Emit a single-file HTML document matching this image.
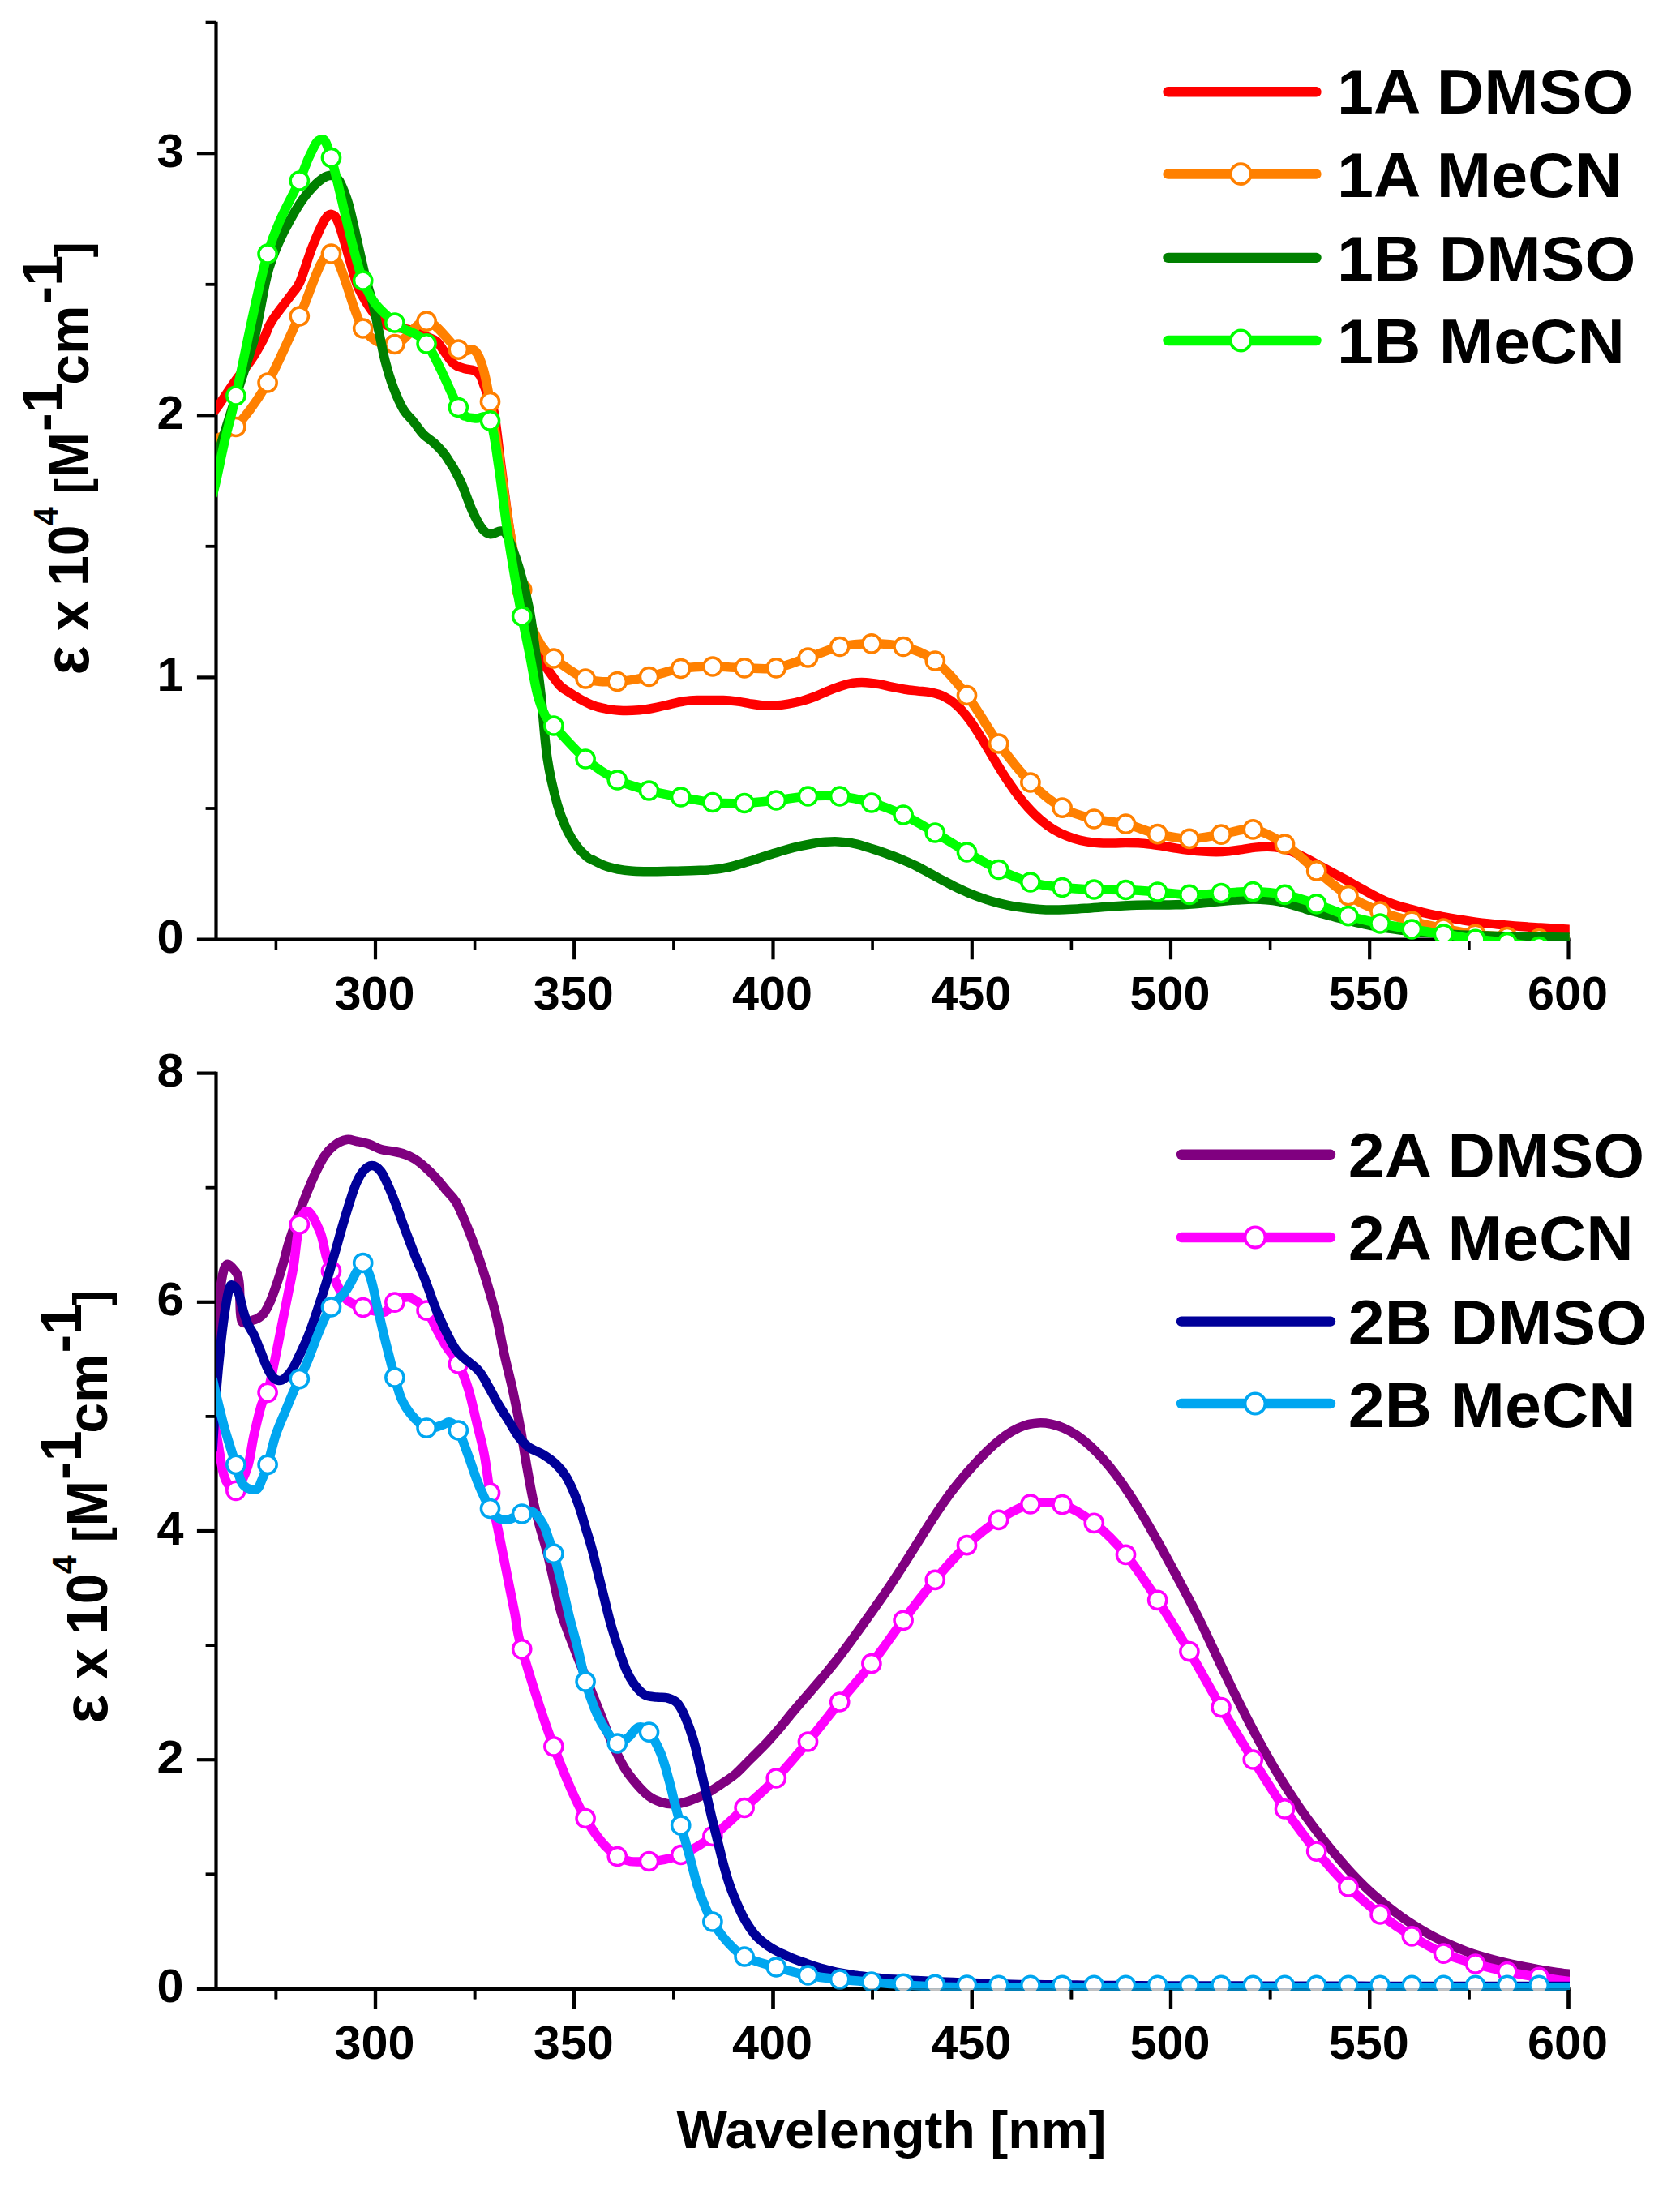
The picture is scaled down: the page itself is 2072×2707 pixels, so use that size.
<!DOCTYPE html>
<html><head><meta charset="utf-8"><title>Spectra</title>
<style>html,body{margin:0;padding:0;background:#fff}body{width:2072px;height:2707px;overflow:hidden}</style>
</head><body>
<svg width="2072" height="2707" viewBox="0 0 2072 2707" style="display:block;font-family:'Liberation Sans',sans-serif;font-weight:700;fill:#000">
<rect width="2072" height="2707" fill="#fff"/>
<defs><clipPath id="ct"><rect x="267" y="0" width="1668.8" height="1161"/></clipPath><clipPath id="cb"><rect x="267" y="1300" width="1669.0" height="1152.2"/></clipPath><clipPath id="cs"><rect x="267" y="2452.2" width="1669.0" height="3.0"/></clipPath></defs>
<g stroke="#000" stroke-width="4.2" fill="none"><path d="M266.5 26.8 V1160.6"/><path d="M242.9 1158.5 H1936.6" stroke-width="4.2"/></g><g stroke="#000" fill="none"><path d="M242.9 835.4 H266.5" stroke-width="4.2"/><path d="M242.9 512.3 H266.5" stroke-width="4.2"/><path d="M242.9 189.2 H266.5" stroke-width="4.2"/><path d="M253.6 997.0 H266.5" stroke-width="3.8"/><path d="M253.6 673.8 H266.5" stroke-width="3.8"/><path d="M253.6 350.8 H266.5" stroke-width="3.8"/><path d="M253.6 27.6 H266.5" stroke-width="3.8"/><path d="M463.0 1158.5 V1183.3" stroke-width="4.2"/><path d="M708.2 1158.5 V1183.3" stroke-width="4.2"/><path d="M953.5 1158.5 V1183.3" stroke-width="4.2"/><path d="M1198.8 1158.5 V1183.3" stroke-width="4.2"/><path d="M1444.0 1158.5 V1183.3" stroke-width="4.2"/><path d="M1689.2 1158.5 V1183.3" stroke-width="4.2"/><path d="M1934.5 1158.5 V1183.3" stroke-width="4.2"/><path d="M340.4 1158.5 V1171.5" stroke-width="3.6"/><path d="M585.6 1158.5 V1171.5" stroke-width="3.6"/><path d="M830.9 1158.5 V1171.5" stroke-width="3.6"/><path d="M1076.1 1158.5 V1171.5" stroke-width="3.6"/><path d="M1321.4 1158.5 V1171.5" stroke-width="3.6"/><path d="M1566.6 1158.5 V1171.5" stroke-width="3.6"/><path d="M1811.9 1158.5 V1171.5" stroke-width="3.6"/></g>
<g stroke="#000" stroke-width="4.2" fill="none"><path d="M266.5 1321.7 V2454.5"/><path d="M242.9 2452.7 H1936.6" stroke-width="5.0"/></g><g stroke="#000" fill="none"><path d="M242.9 2170.2 H266.5" stroke-width="4.2"/><path d="M242.9 1888.0 H266.5" stroke-width="4.2"/><path d="M242.9 1605.8 H266.5" stroke-width="4.2"/><path d="M242.9 1323.6 H266.5" stroke-width="4.2"/><path d="M253.6 2311.3 H266.5" stroke-width="3.8"/><path d="M253.6 2029.1 H266.5" stroke-width="3.8"/><path d="M253.6 1746.9 H266.5" stroke-width="3.8"/><path d="M253.6 1464.7 H266.5" stroke-width="3.8"/><path d="M463.0 2452.4 V2477.2" stroke-width="4.2"/><path d="M708.2 2452.4 V2477.2" stroke-width="4.2"/><path d="M953.5 2452.4 V2477.2" stroke-width="4.2"/><path d="M1198.8 2452.4 V2477.2" stroke-width="4.2"/><path d="M1444.0 2452.4 V2477.2" stroke-width="4.2"/><path d="M1689.2 2452.4 V2477.2" stroke-width="4.2"/><path d="M1934.5 2452.4 V2477.2" stroke-width="4.2"/><path d="M340.4 2452.4 V2465.4" stroke-width="3.6"/><path d="M585.6 2452.4 V2465.4" stroke-width="3.6"/><path d="M830.9 2452.4 V2465.4" stroke-width="3.6"/><path d="M1076.1 2452.4 V2465.4" stroke-width="3.6"/><path d="M1321.4 2452.4 V2465.4" stroke-width="3.6"/><path d="M1566.6 2452.4 V2465.4" stroke-width="3.6"/><path d="M1811.9 2452.4 V2465.4" stroke-width="3.6"/></g>
<g clip-path="url(#ct)">
<path d="M262.0 508.0C262.8 507.3 262.3 509.9 267.0 503.6C271.7 497.3 282.8 480.0 290.0 470.0C297.2 460.0 304.2 452.4 310.0 443.8C315.8 435.1 320.8 425.9 325.0 418.0C329.2 410.1 329.2 405.5 335.0 396.2C340.8 387.0 354.2 370.6 360.0 362.5C365.8 354.4 365.8 357.1 370.0 347.5C374.2 337.9 380.0 317.6 385.0 305.0C390.0 292.4 396.0 278.8 400.0 272.0C404.0 265.2 406.1 263.8 409.0 264.3C411.9 264.8 414.0 266.4 417.5 275.0C421.0 283.6 426.2 303.5 430.0 316.0C433.8 328.5 436.7 341.0 440.0 350.0C443.3 359.0 446.7 364.2 450.0 370.0C453.3 375.8 456.7 380.5 460.0 385.0C463.3 389.5 466.7 394.1 470.0 397.0C473.3 399.9 476.3 401.2 480.0 402.5C483.7 403.8 487.8 403.8 492.0 404.5C496.2 405.2 501.0 405.6 505.0 406.5C509.0 407.4 512.3 408.5 516.0 410.0C519.7 411.5 523.2 413.7 527.0 415.5C530.8 417.3 535.4 418.1 538.8 421.0C542.2 423.9 544.0 428.3 547.5 433.0C551.0 437.7 555.8 445.4 560.0 449.0C564.2 452.6 568.3 453.2 572.5 454.5C576.7 455.8 581.8 455.6 585.0 457.0C588.2 458.4 589.8 459.5 592.0 463.0C594.2 466.5 595.8 472.3 598.0 478.0C600.2 483.7 603.0 491.3 605.0 497.0C607.0 502.7 607.8 499.0 610.0 512.0C612.2 525.0 615.0 552.0 618.0 575.0C621.0 598.0 624.7 627.2 628.0 650.0C631.3 672.8 634.8 693.7 638.0 712.0C641.2 730.3 644.2 747.3 647.0 760.0C649.8 772.7 652.4 780.3 655.0 788.0C657.6 795.7 659.2 799.8 662.5 806.0C665.8 812.2 670.4 818.5 675.0 825.0C679.6 831.5 685.8 840.4 690.0 845.0C694.2 849.6 695.7 849.6 700.0 852.5C704.3 855.4 710.7 859.4 716.0 862.4C721.3 865.3 726.7 868.1 732.0 870.1C737.3 872.1 742.7 873.2 748.0 874.3C753.3 875.3 758.7 875.8 764.0 876.2C769.3 876.5 774.7 876.5 780.0 876.3C785.3 876.1 790.7 875.7 796.0 874.9C801.3 874.2 806.7 873.0 812.0 871.9C817.3 870.8 822.7 869.3 828.0 868.1C833.3 866.9 838.7 865.6 844.0 864.8C849.3 864.0 854.7 863.7 860.0 863.5C865.3 863.3 870.7 863.5 876.0 863.5C881.3 863.5 886.7 863.3 892.0 863.5C897.3 863.7 902.7 864.2 908.0 864.9C913.3 865.5 918.7 866.7 924.0 867.6C929.3 868.4 934.7 869.3 940.0 869.7C945.3 870.1 950.7 870.3 956.0 870.0C961.3 869.7 966.7 869.0 972.0 868.1C977.3 867.2 982.7 866.1 988.0 864.7C993.3 863.3 998.7 861.5 1004.0 859.5C1009.3 857.5 1014.7 854.8 1020.0 852.6C1025.3 850.4 1030.7 848.1 1036.0 846.4C1041.3 844.6 1046.7 843.1 1052.0 842.3C1057.3 841.5 1062.7 841.4 1068.0 841.7C1073.3 841.9 1078.7 842.8 1084.0 843.7C1089.3 844.7 1094.7 846.1 1100.0 847.2C1105.3 848.3 1110.7 849.4 1116.0 850.2C1121.3 851.0 1126.7 851.5 1132.0 852.1C1137.3 852.7 1142.7 852.8 1148.0 853.9C1153.3 855.0 1158.7 856.2 1164.0 858.9C1169.3 861.5 1174.7 864.9 1180.0 869.7C1185.3 874.6 1190.7 880.9 1196.0 888.1C1201.3 895.3 1206.7 904.1 1212.0 912.7C1217.3 921.2 1222.7 930.7 1228.0 939.4C1233.3 948.1 1238.7 956.8 1244.0 964.7C1249.3 972.6 1254.7 979.9 1260.0 986.6C1265.3 993.2 1270.7 999.1 1276.0 1004.4C1281.3 1009.6 1286.7 1014.2 1292.0 1018.0C1297.3 1021.9 1302.7 1025.0 1308.0 1027.7C1313.3 1030.3 1318.7 1032.2 1324.0 1033.9C1329.3 1035.6 1334.7 1036.8 1340.0 1037.8C1345.3 1038.7 1350.7 1039.3 1356.0 1039.7C1361.3 1040.0 1366.7 1039.9 1372.0 1039.9C1377.3 1039.9 1382.7 1039.6 1388.0 1039.5C1393.3 1039.5 1398.7 1039.5 1404.0 1039.7C1409.3 1040.0 1414.7 1040.6 1420.0 1041.2C1425.3 1041.8 1430.7 1042.7 1436.0 1043.6C1441.3 1044.5 1446.7 1045.6 1452.0 1046.4C1457.3 1047.3 1462.7 1048.0 1468.0 1048.6C1473.3 1049.3 1478.7 1049.8 1484.0 1050.1C1489.3 1050.5 1494.7 1050.8 1500.0 1050.8C1505.3 1050.7 1510.7 1050.3 1516.0 1049.8C1521.3 1049.2 1526.7 1048.3 1532.0 1047.6C1537.3 1046.8 1542.7 1045.7 1548.0 1045.1C1553.3 1044.5 1558.7 1044.0 1564.0 1044.2C1569.3 1044.3 1574.7 1044.7 1580.0 1045.9C1585.3 1047.1 1590.7 1049.0 1596.0 1051.2C1601.3 1053.4 1606.7 1056.4 1612.0 1059.1C1617.3 1061.9 1622.7 1065.0 1628.0 1067.9C1633.3 1070.7 1638.7 1073.6 1644.0 1076.5C1649.3 1079.4 1654.7 1082.2 1660.0 1085.1C1665.3 1088.1 1670.7 1091.2 1676.0 1094.2C1681.3 1097.2 1686.7 1100.3 1692.0 1103.1C1697.3 1105.9 1702.7 1108.7 1708.0 1111.0C1713.3 1113.3 1718.7 1115.2 1724.0 1116.9C1729.3 1118.6 1734.7 1119.9 1740.0 1121.4C1745.3 1122.8 1750.7 1124.3 1756.0 1125.6C1761.3 1126.9 1766.7 1128.1 1772.0 1129.2C1777.3 1130.3 1782.7 1131.2 1788.0 1132.1C1793.3 1133.0 1798.7 1133.9 1804.0 1134.7C1809.3 1135.6 1814.7 1136.4 1820.0 1137.1C1825.3 1137.8 1830.7 1138.4 1836.0 1138.9C1841.3 1139.5 1846.7 1139.9 1852.0 1140.4C1857.3 1140.9 1862.7 1141.4 1868.0 1141.9C1873.3 1142.3 1878.7 1142.7 1884.0 1143.1C1889.3 1143.4 1894.7 1143.7 1900.0 1144.1C1905.3 1144.4 1910.7 1144.7 1916.0 1145.0C1921.3 1145.4 1928.0 1145.8 1932.0 1146.0C1936.0 1146.3 1938.7 1146.4 1940.0 1146.5" fill="none" stroke="#ff0000" stroke-width="11.5" stroke-linejoin="round" stroke-linecap="butt"/>
<path d="M262.0 544.0C262.8 543.5 262.2 543.9 267.0 541.0C271.8 538.1 280.4 538.0 290.9 526.5C301.4 515.0 317.0 494.8 330.1 472.0C343.2 449.2 356.2 416.5 369.3 390.0C382.4 363.5 395.4 310.5 408.5 313.0C421.6 315.5 434.6 386.4 447.7 405.0C460.8 423.6 473.8 426.0 486.9 424.5C500.0 423.0 513.0 395.1 526.1 396.2C539.2 397.4 555.5 425.3 565.3 431.2C575.1 437.2 579.9 428.0 585.0 432.0C590.1 436.0 592.8 444.4 596.0 455.0C599.2 465.6 601.3 478.0 604.5 495.5C607.7 513.0 611.6 537.6 615.0 560.0C618.4 582.4 621.7 608.3 625.0 630.0C628.3 651.7 631.9 673.8 635.0 690.0C638.1 706.2 640.7 715.0 643.7 727.5C646.7 740.0 649.9 755.0 653.0 765.0C656.1 775.0 659.3 781.3 662.5 787.5C665.7 793.7 668.6 797.9 672.0 802.0C675.4 806.1 674.5 806.2 682.9 812.0C691.2 817.8 709.0 832.2 722.1 837.0C735.2 841.8 748.2 840.9 761.3 840.5C774.4 840.1 787.4 837.2 800.5 834.5C813.6 831.8 826.6 826.6 839.7 824.5C852.8 822.4 865.8 822.1 878.9 822.0C892.0 821.9 905.0 823.5 918.1 823.8C931.2 824.0 944.2 825.9 957.3 823.8C970.4 821.6 983.4 815.4 996.5 811.0C1009.6 806.6 1022.6 800.4 1035.7 797.5C1048.8 794.6 1061.8 793.8 1074.9 793.8C1088.0 793.8 1101.0 794.0 1114.1 797.5C1127.2 801.0 1140.2 805.0 1153.3 815.0C1166.4 825.0 1179.4 840.5 1192.5 857.5C1205.6 874.5 1218.6 899.1 1231.7 917.0C1244.8 934.9 1257.8 951.8 1270.9 965.0C1284.0 978.2 1297.0 988.8 1310.1 996.2C1323.2 1003.8 1336.2 1006.7 1349.3 1010.0C1362.4 1013.3 1375.4 1013.1 1388.5 1016.2C1401.6 1019.4 1414.6 1025.6 1427.7 1028.6C1440.8 1031.6 1453.8 1034.2 1466.9 1034.3C1480.0 1034.4 1493.0 1031.0 1506.1 1029.1C1519.2 1027.2 1532.2 1020.9 1545.3 1022.9C1558.4 1024.9 1571.4 1032.5 1584.5 1041.0C1597.6 1049.5 1610.6 1063.3 1623.7 1073.9C1636.8 1084.5 1649.8 1096.2 1662.9 1104.6C1676.0 1112.9 1689.0 1118.8 1702.1 1124.0C1715.2 1129.2 1728.2 1132.5 1741.3 1136.0C1754.4 1139.5 1767.4 1142.3 1780.5 1145.0C1793.6 1147.7 1806.6 1150.5 1819.7 1152.3C1832.8 1154.1 1845.8 1154.7 1858.9 1155.6C1872.0 1156.5 1884.6 1157.0 1898.1 1157.5C1911.6 1158.0 1933.0 1158.3 1940.0 1158.5" fill="none" stroke="#ff8000" stroke-width="11.5" stroke-linejoin="round" stroke-linecap="butt"/><g fill="#fff" stroke="#ff8000" stroke-width="3.5"><circle cx="290.9" cy="526.5" r="11.1"/><circle cx="330.1" cy="472.0" r="11.1"/><circle cx="369.3" cy="390.0" r="11.1"/><circle cx="408.5" cy="313.0" r="11.1"/><circle cx="447.7" cy="405.0" r="11.1"/><circle cx="486.9" cy="424.5" r="11.1"/><circle cx="526.1" cy="396.2" r="11.1"/><circle cx="565.3" cy="431.2" r="11.1"/><circle cx="604.5" cy="495.5" r="11.1"/><circle cx="643.7" cy="727.5" r="11.1"/><circle cx="682.9" cy="812.0" r="11.1"/><circle cx="722.1" cy="837.0" r="11.1"/><circle cx="761.3" cy="840.5" r="11.1"/><circle cx="800.5" cy="834.5" r="11.1"/><circle cx="839.7" cy="824.5" r="11.1"/><circle cx="878.9" cy="822.0" r="11.1"/><circle cx="918.1" cy="823.8" r="11.1"/><circle cx="957.3" cy="823.8" r="11.1"/><circle cx="996.5" cy="811.0" r="11.1"/><circle cx="1035.7" cy="797.5" r="11.1"/><circle cx="1074.9" cy="793.8" r="11.1"/><circle cx="1114.1" cy="797.5" r="11.1"/><circle cx="1153.3" cy="815.0" r="11.1"/><circle cx="1192.5" cy="857.5" r="11.1"/><circle cx="1231.7" cy="917.0" r="11.1"/><circle cx="1270.9" cy="965.0" r="11.1"/><circle cx="1310.1" cy="996.2" r="11.1"/><circle cx="1349.3" cy="1010.0" r="11.1"/><circle cx="1388.5" cy="1016.2" r="11.1"/><circle cx="1427.7" cy="1028.6" r="11.1"/><circle cx="1466.9" cy="1034.3" r="11.1"/><circle cx="1506.1" cy="1029.1" r="11.1"/><circle cx="1545.3" cy="1022.9" r="11.1"/><circle cx="1584.5" cy="1041.0" r="11.1"/><circle cx="1623.7" cy="1073.9" r="11.1"/><circle cx="1662.9" cy="1104.6" r="11.1"/><circle cx="1702.1" cy="1124.0" r="11.1"/><circle cx="1741.3" cy="1136.0" r="11.1"/><circle cx="1780.5" cy="1145.0" r="11.1"/><circle cx="1819.7" cy="1152.3" r="11.1"/><circle cx="1858.9" cy="1155.6" r="11.1"/><circle cx="1898.1" cy="1157.5" r="11.1"/></g>
<path d="M262.0 580.0C262.8 577.5 262.3 579.7 267.0 565.0C271.7 550.3 284.2 510.3 290.0 492.0C295.8 473.7 298.2 467.0 302.0 455.0C305.8 443.0 310.4 429.2 313.0 420.0C315.6 410.8 315.2 411.7 317.5 400.0C319.8 388.3 324.6 361.7 327.0 350.0C329.4 338.3 330.0 336.5 332.0 330.0C334.0 323.5 336.2 317.5 338.8 311.0C341.3 304.5 344.7 297.0 347.5 291.0C350.3 285.0 353.1 280.1 355.8 275.0C358.6 269.9 361.1 265.3 364.0 260.5C366.9 255.7 370.3 250.2 373.3 246.0C376.3 241.8 379.2 238.2 382.0 235.0C384.8 231.8 387.3 229.0 390.0 226.5C392.7 224.0 395.7 221.6 398.0 220.0C400.3 218.4 402.2 217.6 404.0 217.0C405.8 216.4 407.3 216.1 409.0 216.3C410.7 216.6 412.4 217.4 414.0 218.5C415.6 219.6 416.3 218.9 418.5 223.0C420.7 227.1 424.8 236.8 427.0 243.0C429.2 249.2 429.2 248.8 432.0 260.0C434.8 271.2 440.2 295.8 443.5 310.0C446.8 324.2 448.8 334.2 451.5 345.0C454.2 355.8 457.3 364.2 460.0 375.0C462.7 385.8 465.0 398.3 467.5 410.0C470.0 421.7 472.1 433.8 475.0 445.0C477.9 456.2 481.2 467.5 485.0 477.5C488.8 487.5 493.3 497.9 497.5 505.0C501.7 512.1 505.8 514.8 510.0 520.0C514.2 525.2 518.3 531.7 522.5 536.0C526.7 540.3 530.4 541.6 535.0 546.0C539.6 550.4 544.6 554.8 550.0 562.5C555.4 570.2 562.1 581.2 567.5 592.5C572.9 603.8 577.9 620.0 582.5 630.0C587.1 640.0 591.2 647.7 595.0 652.5C598.8 657.3 601.2 658.3 605.0 658.8C608.8 659.2 614.2 654.8 617.5 655.0C620.8 655.2 621.2 652.5 625.0 660.0C628.8 667.5 635.4 685.0 640.0 700.0C644.6 715.0 649.2 733.3 652.5 750.0C655.8 766.7 657.5 781.7 660.0 800.0C662.5 818.3 665.0 837.5 667.5 860.0C670.0 882.5 671.7 912.9 675.0 935.0C678.3 957.1 683.3 977.5 687.5 992.5C691.7 1007.5 695.8 1016.2 700.0 1025.0C704.2 1033.8 708.3 1039.6 712.5 1045.0C716.7 1050.4 722.1 1055.0 725.0 1057.5C727.9 1060.0 726.5 1058.3 730.0 1060.0C733.5 1061.7 740.7 1065.7 746.0 1067.7C751.3 1069.7 756.7 1070.9 762.0 1072.0C767.3 1073.0 772.7 1073.7 778.0 1074.1C783.3 1074.6 788.7 1074.7 794.0 1074.8C799.3 1074.9 804.7 1074.8 810.0 1074.7C815.3 1074.6 820.7 1074.5 826.0 1074.3C831.3 1074.2 836.7 1074.1 842.0 1073.9C847.3 1073.8 852.7 1073.7 858.0 1073.5C863.3 1073.3 868.7 1073.2 874.0 1072.9C879.3 1072.5 884.7 1072.1 890.0 1071.2C895.3 1070.3 900.7 1069.0 906.0 1067.6C911.3 1066.2 916.7 1064.5 922.0 1062.8C927.3 1061.2 932.7 1059.4 938.0 1057.7C943.3 1056.0 948.7 1054.2 954.0 1052.6C959.3 1050.9 964.7 1049.2 970.0 1047.7C975.3 1046.2 980.7 1044.9 986.0 1043.7C991.3 1042.5 996.7 1041.4 1002.0 1040.5C1007.3 1039.6 1012.7 1038.7 1018.0 1038.3C1023.3 1037.9 1028.7 1037.7 1034.0 1037.9C1039.3 1038.1 1044.7 1038.7 1050.0 1039.7C1055.3 1040.6 1060.7 1042.1 1066.0 1043.7C1071.3 1045.2 1076.7 1047.0 1082.0 1048.8C1087.3 1050.6 1092.7 1052.5 1098.0 1054.5C1103.3 1056.4 1108.7 1058.5 1114.0 1060.7C1119.3 1063.0 1124.7 1065.4 1130.0 1068.0C1135.3 1070.7 1140.7 1073.7 1146.0 1076.6C1151.3 1079.4 1156.7 1082.5 1162.0 1085.3C1167.3 1088.1 1172.7 1091.0 1178.0 1093.6C1183.3 1096.2 1188.7 1098.6 1194.0 1100.9C1199.3 1103.1 1204.7 1105.2 1210.0 1107.1C1215.3 1109.0 1220.7 1110.8 1226.0 1112.3C1231.3 1113.8 1236.7 1115.0 1242.0 1116.1C1247.3 1117.2 1252.7 1118.1 1258.0 1118.9C1263.3 1119.7 1268.7 1120.3 1274.0 1120.8C1279.3 1121.3 1284.7 1121.7 1290.0 1121.9C1295.3 1122.1 1300.7 1122.1 1306.0 1122.0C1311.3 1121.9 1316.7 1121.6 1322.0 1121.3C1327.3 1121.1 1332.7 1120.7 1338.0 1120.3C1343.3 1120.0 1348.7 1119.6 1354.0 1119.2C1359.3 1118.8 1364.7 1118.3 1370.0 1117.9C1375.3 1117.6 1380.7 1117.2 1386.0 1116.9C1391.3 1116.6 1396.7 1116.3 1402.0 1116.2C1407.3 1116.1 1412.7 1116.1 1418.0 1116.1C1423.3 1116.1 1428.7 1116.1 1434.0 1116.1C1439.3 1116.0 1444.7 1115.9 1450.0 1115.8C1455.3 1115.7 1460.7 1115.5 1466.0 1115.2C1471.3 1115.0 1476.7 1114.6 1482.0 1114.1C1487.3 1113.7 1492.7 1113.0 1498.0 1112.4C1503.3 1111.9 1508.7 1111.3 1514.0 1110.8C1519.3 1110.4 1524.7 1110.0 1530.0 1109.7C1535.3 1109.4 1540.7 1109.1 1546.0 1109.1C1551.3 1109.1 1556.7 1109.3 1562.0 1109.8C1567.3 1110.2 1572.7 1110.9 1578.0 1111.9C1583.3 1113.0 1588.7 1114.4 1594.0 1115.9C1599.3 1117.4 1604.7 1119.2 1610.0 1120.9C1615.3 1122.5 1620.7 1124.0 1626.0 1125.5C1631.3 1127.0 1636.7 1128.4 1642.0 1129.8C1647.3 1131.3 1652.7 1132.6 1658.0 1134.0C1663.3 1135.4 1668.7 1136.8 1674.0 1138.0C1679.3 1139.2 1684.7 1140.4 1690.0 1141.4C1695.3 1142.4 1700.7 1143.2 1706.0 1144.0C1711.3 1144.8 1716.7 1145.6 1722.0 1146.3C1727.3 1147.1 1732.7 1147.9 1738.0 1148.5C1743.3 1149.1 1748.7 1149.5 1754.0 1149.9C1759.3 1150.3 1764.7 1150.6 1770.0 1151.0C1775.3 1151.4 1780.7 1151.7 1786.0 1152.1C1791.3 1152.4 1796.7 1152.7 1802.0 1153.0C1807.3 1153.2 1812.7 1153.4 1818.0 1153.6C1823.3 1153.8 1828.7 1154.0 1834.0 1154.1C1839.3 1154.3 1844.7 1154.5 1850.0 1154.6C1855.3 1154.8 1860.7 1154.9 1866.0 1155.0C1871.3 1155.1 1876.7 1155.2 1882.0 1155.3C1887.3 1155.3 1892.7 1155.4 1898.0 1155.5C1903.3 1155.5 1908.7 1155.6 1914.0 1155.7C1919.3 1155.7 1925.7 1155.8 1930.0 1155.9C1934.3 1155.9 1938.3 1156.0 1940.0 1156.0" fill="none" stroke="#008000" stroke-width="11.5" stroke-linejoin="round" stroke-linecap="butt"/>
<path d="M262.0 612.0C262.8 608.5 264.3 603.0 267.0 591.0C269.7 579.0 274.0 557.2 278.0 540.0C282.0 522.8 282.2 525.8 290.9 488.0C299.6 450.2 317.0 357.2 330.1 313.0C343.2 268.8 360.6 243.2 369.3 223.0C377.9 202.8 377.7 200.4 382.0 192.0C386.3 183.6 390.6 172.1 395.0 172.5C399.4 172.9 399.7 165.6 408.5 194.5C417.3 223.4 434.6 312.1 447.7 346.0C460.8 379.9 473.8 385.0 486.9 398.0C500.0 411.0 513.0 406.3 526.1 423.8C539.2 441.2 557.1 487.5 565.3 502.5C573.4 517.5 571.4 511.2 575.0 513.5C578.6 515.8 582.1 515.1 587.0 516.0C591.9 516.9 599.8 508.9 604.5 518.8C609.2 528.6 611.6 553.1 615.0 575.0C618.4 596.9 621.7 627.1 625.0 650.0C628.3 672.9 631.9 694.2 635.0 712.5C638.1 730.8 640.6 743.8 643.7 760.0C646.8 776.2 650.6 794.2 653.8 810.0C656.9 825.8 659.4 842.9 662.5 855.0C665.6 867.1 669.1 875.8 672.5 882.5C675.9 889.2 674.6 886.1 682.9 895.0C691.2 903.9 709.0 924.8 722.1 936.0C735.2 947.2 748.2 955.5 761.3 962.0C774.4 968.5 787.4 971.5 800.5 975.0C813.6 978.5 826.6 980.6 839.7 983.0C852.8 985.4 865.8 988.2 878.9 989.5C892.0 990.8 905.0 990.9 918.1 990.5C931.2 990.1 944.2 988.4 957.3 987.0C970.4 985.6 983.4 982.8 996.5 982.0C1009.6 981.2 1022.6 980.7 1035.7 982.0C1048.8 983.3 1061.8 986.2 1074.9 990.0C1088.0 993.8 1101.0 998.8 1114.1 1005.0C1127.2 1011.2 1140.2 1019.3 1153.3 1027.0C1166.4 1034.7 1179.4 1043.4 1192.5 1051.0C1205.6 1058.6 1218.6 1066.3 1231.7 1072.5C1244.8 1078.7 1257.8 1084.3 1270.9 1088.0C1284.0 1091.7 1297.0 1093.0 1310.1 1094.5C1323.2 1096.0 1336.2 1096.5 1349.3 1097.0C1362.4 1097.5 1375.4 1097.0 1388.5 1097.5C1401.6 1098.0 1414.6 1099.0 1427.7 1100.0C1440.8 1101.0 1453.8 1103.2 1466.9 1103.4C1480.0 1103.7 1493.0 1102.1 1506.1 1101.5C1519.2 1100.9 1532.2 1099.3 1545.3 1099.6C1558.4 1099.9 1571.4 1100.9 1584.5 1103.4C1597.6 1106.0 1610.6 1110.5 1623.7 1114.9C1636.8 1119.3 1649.8 1125.6 1662.9 1129.6C1676.0 1133.6 1689.0 1136.3 1702.1 1139.0C1715.2 1141.7 1728.2 1143.8 1741.3 1146.0C1754.4 1148.2 1767.4 1150.0 1780.5 1152.0C1793.6 1154.0 1806.6 1156.5 1819.7 1158.3C1832.8 1160.0 1845.8 1161.0 1858.9 1162.5C1872.0 1164.0 1884.6 1166.4 1898.1 1167.5C1911.6 1168.6 1933.0 1168.8 1940.0 1169.0" fill="none" stroke="#00ff00" stroke-width="11.5" stroke-linejoin="round" stroke-linecap="butt"/><g fill="#fff" stroke="#00ff00" stroke-width="3.5"><circle cx="290.9" cy="488.0" r="11.1"/><circle cx="330.1" cy="313.0" r="11.1"/><circle cx="369.3" cy="223.0" r="11.1"/><circle cx="408.5" cy="194.5" r="11.1"/><circle cx="447.7" cy="346.0" r="11.1"/><circle cx="486.9" cy="398.0" r="11.1"/><circle cx="526.1" cy="423.8" r="11.1"/><circle cx="565.3" cy="502.5" r="11.1"/><circle cx="604.5" cy="518.8" r="11.1"/><circle cx="643.7" cy="760.0" r="11.1"/><circle cx="682.9" cy="895.0" r="11.1"/><circle cx="722.1" cy="936.0" r="11.1"/><circle cx="761.3" cy="962.0" r="11.1"/><circle cx="800.5" cy="975.0" r="11.1"/><circle cx="839.7" cy="983.0" r="11.1"/><circle cx="878.9" cy="989.5" r="11.1"/><circle cx="918.1" cy="990.5" r="11.1"/><circle cx="957.3" cy="987.0" r="11.1"/><circle cx="996.5" cy="982.0" r="11.1"/><circle cx="1035.7" cy="982.0" r="11.1"/><circle cx="1074.9" cy="990.0" r="11.1"/><circle cx="1114.1" cy="1005.0" r="11.1"/><circle cx="1153.3" cy="1027.0" r="11.1"/><circle cx="1192.5" cy="1051.0" r="11.1"/><circle cx="1231.7" cy="1072.5" r="11.1"/><circle cx="1270.9" cy="1088.0" r="11.1"/><circle cx="1310.1" cy="1094.5" r="11.1"/><circle cx="1349.3" cy="1097.0" r="11.1"/><circle cx="1388.5" cy="1097.5" r="11.1"/><circle cx="1427.7" cy="1100.0" r="11.1"/><circle cx="1466.9" cy="1103.4" r="11.1"/><circle cx="1506.1" cy="1101.5" r="11.1"/><circle cx="1545.3" cy="1099.6" r="11.1"/><circle cx="1584.5" cy="1103.4" r="11.1"/><circle cx="1623.7" cy="1114.9" r="11.1"/><circle cx="1662.9" cy="1129.6" r="11.1"/><circle cx="1702.1" cy="1139.0" r="11.1"/><circle cx="1741.3" cy="1146.0" r="11.1"/><circle cx="1780.5" cy="1152.0" r="11.1"/><circle cx="1819.7" cy="1158.3" r="11.1"/><circle cx="1858.9" cy="1162.5" r="11.1"/><circle cx="1898.1" cy="1167.5" r="11.1"/></g>
</g>
<g clip-path="url(#cb)"><path d="M262.0 1700.0C262.8 1690.0 265.4 1658.0 267.0 1640.0C268.6 1622.0 270.1 1604.0 271.5 1592.0C272.9 1580.0 274.1 1573.5 275.5 1568.0C276.9 1562.5 278.2 1559.8 280.2 1559.2C282.2 1558.6 285.3 1562.4 287.4 1564.5C289.5 1566.6 291.4 1568.5 292.7 1571.7C294.0 1574.9 294.6 1578.6 295.1 1583.6C295.6 1588.5 295.6 1595.5 295.9 1601.4C296.1 1607.4 296.2 1614.5 296.6 1619.3C297.0 1624.1 297.4 1628.0 298.5 1630.0C299.6 1632.0 301.5 1631.6 303.0 1631.5C304.5 1631.4 305.4 1630.3 307.6 1629.5C309.8 1628.7 313.6 1627.9 316.0 1626.8C318.4 1625.7 320.2 1624.5 322.0 1623.0C323.8 1621.5 324.7 1621.2 326.7 1618.0C328.7 1614.8 331.0 1610.7 333.8 1604.0C336.6 1597.3 340.5 1586.0 343.3 1577.6C346.1 1569.2 348.5 1560.7 350.5 1553.8C352.5 1546.9 353.2 1542.6 355.2 1536.0C357.2 1529.4 359.2 1523.3 362.5 1514.0C365.8 1504.7 370.8 1490.7 375.0 1480.0C379.2 1469.3 383.3 1459.0 387.5 1450.0C391.7 1441.0 395.8 1432.2 400.0 1426.0C404.2 1419.8 407.9 1415.9 412.5 1412.5C417.1 1409.1 422.9 1406.3 427.5 1405.5C432.1 1404.7 435.4 1406.6 440.0 1407.5C444.6 1408.4 450.0 1409.3 455.0 1411.0C460.0 1412.7 465.0 1416.0 470.0 1417.5C475.0 1419.0 480.0 1419.0 485.0 1420.0C490.0 1421.0 495.4 1422.1 500.0 1423.8C504.6 1425.4 508.3 1427.3 512.5 1430.0C516.7 1432.7 520.8 1436.2 525.0 1440.0C529.2 1443.8 533.3 1447.9 537.5 1452.5C541.7 1457.1 545.8 1462.5 550.0 1467.5C554.2 1472.5 558.3 1475.4 562.5 1482.5C566.7 1489.6 570.8 1500.0 575.0 1510.0C579.2 1520.0 583.3 1530.8 587.5 1542.5C591.7 1554.2 595.8 1566.2 600.0 1580.0C604.2 1593.8 608.8 1609.6 612.5 1625.0C616.2 1640.4 619.2 1657.5 622.5 1672.5C625.8 1687.5 629.2 1699.6 632.5 1715.0C635.8 1730.4 639.6 1749.2 642.5 1765.0C645.4 1780.8 647.5 1795.8 650.0 1810.0C652.5 1824.2 655.0 1838.3 657.5 1850.0C660.0 1861.7 662.1 1869.2 665.0 1880.0C667.9 1890.8 672.1 1903.8 675.0 1915.0C677.9 1926.2 679.6 1935.0 682.5 1947.5C685.4 1960.0 687.9 1975.0 692.5 1990.0C697.1 2005.0 704.6 2023.3 710.0 2037.5C715.4 2051.7 720.0 2062.5 725.0 2075.0C730.0 2087.5 735.0 2100.0 740.0 2112.5C745.0 2125.0 750.0 2138.8 755.0 2150.0C760.0 2161.2 765.0 2171.7 770.0 2180.0C775.0 2188.3 780.0 2194.2 785.0 2200.0C790.0 2205.8 795.0 2211.2 800.0 2215.0C805.0 2218.8 809.6 2220.8 815.0 2222.5C820.4 2224.2 826.7 2225.2 832.5 2225.0C838.3 2224.8 843.8 2223.1 850.0 2221.0C856.2 2218.9 863.3 2216.0 870.0 2212.5C876.7 2209.0 883.8 2204.2 890.0 2200.0C896.2 2195.8 901.7 2192.5 907.5 2187.5C913.3 2182.5 918.8 2176.2 925.0 2170.0C931.2 2163.8 939.2 2156.1 945.0 2150.0C950.8 2143.9 954.8 2139.2 960.0 2133.1C965.2 2127.0 970.7 2119.9 976.0 2113.5C981.3 2107.1 986.7 2101.0 992.0 2094.8C997.3 2088.6 1002.7 2082.6 1008.0 2076.3C1013.3 2070.0 1018.7 2063.8 1024.0 2057.2C1029.3 2050.6 1034.7 2043.8 1040.0 2036.7C1045.3 2029.7 1050.7 2022.2 1056.0 2014.9C1061.3 2007.5 1066.7 2000.0 1072.0 1992.5C1077.3 1985.0 1082.7 1977.6 1088.0 1969.8C1093.3 1962.1 1098.7 1954.2 1104.0 1946.1C1109.3 1938.0 1114.7 1929.6 1120.0 1921.2C1125.3 1912.8 1130.7 1904.2 1136.0 1895.7C1141.3 1887.3 1146.7 1878.7 1152.0 1870.6C1157.3 1862.5 1162.7 1854.5 1168.0 1847.1C1173.3 1839.7 1178.7 1832.9 1184.0 1826.4C1189.3 1819.8 1194.7 1813.7 1200.0 1807.8C1205.3 1802.0 1210.7 1796.3 1216.0 1791.1C1221.3 1785.9 1226.7 1780.9 1232.0 1776.6C1237.3 1772.2 1242.7 1768.4 1248.0 1765.3C1253.3 1762.2 1258.7 1759.7 1264.0 1757.9C1269.3 1756.2 1274.7 1755.3 1280.0 1754.9C1285.3 1754.6 1290.7 1755.0 1296.0 1756.1C1301.3 1757.1 1306.7 1758.8 1312.0 1761.2C1317.3 1763.5 1322.7 1766.5 1328.0 1770.1C1333.3 1773.7 1338.7 1777.9 1344.0 1782.7C1349.3 1787.5 1354.7 1792.9 1360.0 1798.8C1365.3 1804.7 1370.7 1811.3 1376.0 1818.4C1381.3 1825.4 1386.7 1833.1 1392.0 1841.2C1397.3 1849.2 1402.7 1857.8 1408.0 1866.6C1413.3 1875.4 1418.7 1884.7 1424.0 1894.1C1429.3 1903.4 1434.7 1913.1 1440.0 1922.9C1445.3 1932.6 1450.7 1942.5 1456.0 1952.6C1461.3 1962.6 1466.7 1972.5 1472.0 1983.0C1477.3 1993.5 1482.7 2004.4 1488.0 2015.6C1493.3 2026.7 1498.7 2038.5 1504.0 2049.8C1509.3 2061.1 1514.7 2072.3 1520.0 2083.2C1525.3 2094.1 1530.7 2104.7 1536.0 2115.1C1541.3 2125.5 1546.7 2135.7 1552.0 2145.6C1557.3 2155.4 1562.7 2165.0 1568.0 2174.1C1573.3 2183.3 1578.7 2192.1 1584.0 2200.6C1589.3 2209.1 1594.7 2217.2 1600.0 2225.1C1605.3 2232.9 1610.7 2240.4 1616.0 2247.7C1621.3 2255.0 1626.7 2261.9 1632.0 2268.7C1637.3 2275.5 1642.7 2282.1 1648.0 2288.4C1653.3 2294.8 1658.7 2301.0 1664.0 2306.8C1669.3 2312.7 1674.7 2318.2 1680.0 2323.5C1685.3 2328.8 1690.7 2333.7 1696.0 2338.4C1701.3 2343.1 1706.7 2347.4 1712.0 2351.6C1717.3 2355.8 1722.7 2359.8 1728.0 2363.6C1733.3 2367.4 1738.7 2371.0 1744.0 2374.4C1749.3 2377.8 1754.7 2381.0 1760.0 2384.0C1765.3 2387.0 1770.7 2389.8 1776.0 2392.4C1781.3 2395.0 1786.7 2397.5 1792.0 2399.8C1797.3 2402.1 1802.7 2404.3 1808.0 2406.3C1813.3 2408.3 1818.7 2410.1 1824.0 2411.8C1829.3 2413.5 1834.7 2415.0 1840.0 2416.4C1845.3 2417.8 1850.7 2419.1 1856.0 2420.3C1861.3 2421.5 1866.7 2422.7 1872.0 2423.8C1877.3 2424.9 1882.7 2426.0 1888.0 2427.0C1893.3 2428.0 1898.7 2429.1 1904.0 2430.0C1909.3 2430.9 1914.7 2431.7 1920.0 2432.4C1925.3 2433.1 1932.7 2434.0 1936.0 2434.3C1939.3 2434.7 1939.3 2434.7 1940.0 2434.8" fill="none" stroke="#800080" stroke-width="11.5" stroke-linejoin="round" stroke-linecap="butt"/><path d="M262.0 1745.0C262.9 1749.2 265.0 1758.3 267.2 1770.0C269.4 1781.7 272.7 1805.0 275.0 1815.0C277.3 1825.0 278.4 1826.1 281.0 1830.0C283.6 1833.9 286.8 1841.9 290.9 1838.3C295.0 1834.7 301.8 1819.9 305.5 1808.6C309.2 1797.3 310.2 1783.2 313.1 1770.4C316.0 1757.7 319.9 1740.9 322.7 1732.1C325.5 1723.2 327.6 1725.3 330.1 1717.3C332.6 1709.3 335.3 1694.6 337.5 1684.3C339.7 1674.0 341.4 1665.1 343.3 1655.6C345.2 1646.0 346.8 1638.2 349.0 1627.0C351.2 1615.8 354.5 1599.9 356.7 1588.7C358.9 1577.5 360.2 1573.1 362.3 1560.0C364.4 1546.9 366.3 1521.0 369.3 1510.0C372.2 1499.0 375.7 1492.1 380.0 1493.8C384.3 1495.4 391.2 1510.6 395.0 1520.0C398.8 1529.4 400.2 1542.1 402.5 1550.0C404.8 1557.9 405.6 1560.4 408.5 1567.5C411.4 1574.6 416.4 1586.2 420.0 1592.5C423.6 1598.8 425.4 1601.7 430.0 1605.0C434.6 1608.3 441.9 1610.4 447.7 1612.5C453.5 1614.6 460.4 1616.6 465.0 1617.5C469.6 1618.4 471.4 1619.9 475.0 1618.0C478.6 1616.1 481.9 1609.2 486.9 1606.2C491.9 1603.2 498.5 1598.3 505.0 1600.0C511.5 1601.7 520.7 1610.0 526.1 1616.2C531.5 1622.5 533.5 1630.2 537.5 1637.5C541.5 1644.8 545.4 1652.6 550.0 1660.0C554.6 1667.4 560.7 1673.2 565.3 1682.0C569.9 1690.8 573.8 1700.8 577.5 1712.5C581.2 1724.2 584.2 1738.8 587.5 1752.5C590.8 1766.2 594.7 1780.2 597.5 1795.0C600.3 1809.8 601.6 1825.4 604.5 1841.2C607.4 1857.1 611.6 1873.5 615.0 1890.0C618.4 1906.5 621.7 1923.3 625.0 1940.0C628.3 1956.7 631.9 1974.4 635.0 1990.0C638.1 2005.6 635.7 2006.5 643.7 2033.8C651.7 2061.0 669.8 2119.0 682.9 2153.8C696.0 2188.5 709.0 2219.9 722.1 2242.5C735.2 2265.1 748.2 2280.7 761.3 2289.5C774.4 2298.3 787.4 2295.8 800.5 2295.5C813.6 2295.2 826.6 2292.7 839.7 2287.5C852.8 2282.3 865.8 2274.2 878.9 2264.5C892.0 2254.8 905.0 2241.4 918.1 2229.5C931.2 2217.6 944.2 2206.6 957.3 2193.0C970.4 2179.4 983.4 2163.7 996.5 2148.0C1009.6 2132.3 1022.6 2115.1 1035.7 2099.0C1048.8 2082.9 1061.8 2068.5 1074.9 2051.7C1088.0 2034.9 1101.0 2015.5 1114.1 1998.3C1127.2 1981.1 1140.2 1963.7 1153.3 1948.3C1166.4 1932.9 1179.4 1918.0 1192.5 1905.7C1205.6 1893.4 1218.6 1882.8 1231.7 1874.3C1244.8 1865.8 1257.8 1858.1 1270.9 1855.0C1284.0 1851.9 1297.0 1851.8 1310.1 1855.7C1323.2 1859.6 1336.2 1868.0 1349.3 1878.3C1362.4 1888.6 1375.4 1901.5 1388.5 1917.3C1401.6 1933.1 1414.6 1953.4 1427.7 1973.3C1440.8 1993.2 1453.8 2014.7 1466.9 2036.7C1480.0 2058.8 1493.0 2083.4 1506.1 2105.6C1519.2 2127.8 1532.2 2149.1 1545.3 2170.0C1558.4 2190.9 1571.4 2212.0 1584.5 2230.9C1597.6 2249.8 1610.6 2267.2 1623.7 2283.2C1636.8 2299.2 1649.8 2314.1 1662.9 2327.0C1676.0 2339.9 1689.0 2350.8 1702.1 2360.9C1715.2 2371.0 1728.2 2379.8 1741.3 2387.8C1754.4 2395.8 1767.4 2403.4 1780.5 2409.1C1793.6 2414.8 1806.6 2418.2 1819.7 2422.0C1832.8 2425.8 1845.8 2428.9 1858.9 2431.6C1872.0 2434.3 1884.6 2436.3 1898.1 2438.4C1911.6 2440.5 1933.0 2443.1 1940.0 2444.0" fill="none" stroke="#ff00ff" stroke-width="11.5" stroke-linejoin="round" stroke-linecap="butt"/><g fill="#fff" stroke="#ff00ff" stroke-width="3.5"><circle cx="290.9" cy="1838.3" r="11.1"/><circle cx="330.1" cy="1717.3" r="11.1"/><circle cx="369.3" cy="1510.0" r="11.1"/><circle cx="408.5" cy="1567.5" r="11.1"/><circle cx="447.7" cy="1612.5" r="11.1"/><circle cx="486.9" cy="1606.2" r="11.1"/><circle cx="526.1" cy="1616.2" r="11.1"/><circle cx="565.3" cy="1682.0" r="11.1"/><circle cx="604.5" cy="1841.2" r="11.1"/><circle cx="643.7" cy="2033.8" r="11.1"/><circle cx="682.9" cy="2153.8" r="11.1"/><circle cx="722.1" cy="2242.5" r="11.1"/><circle cx="761.3" cy="2289.5" r="11.1"/><circle cx="800.5" cy="2295.5" r="11.1"/><circle cx="839.7" cy="2287.5" r="11.1"/><circle cx="878.9" cy="2264.5" r="11.1"/><circle cx="918.1" cy="2229.5" r="11.1"/><circle cx="957.3" cy="2193.0" r="11.1"/><circle cx="996.5" cy="2148.0" r="11.1"/><circle cx="1035.7" cy="2099.0" r="11.1"/><circle cx="1074.9" cy="2051.7" r="11.1"/><circle cx="1114.1" cy="1998.3" r="11.1"/><circle cx="1153.3" cy="1948.3" r="11.1"/><circle cx="1192.5" cy="1905.7" r="11.1"/><circle cx="1231.7" cy="1874.3" r="11.1"/><circle cx="1270.9" cy="1855.0" r="11.1"/><circle cx="1310.1" cy="1855.7" r="11.1"/><circle cx="1349.3" cy="1878.3" r="11.1"/><circle cx="1388.5" cy="1917.3" r="11.1"/><circle cx="1427.7" cy="1973.3" r="11.1"/><circle cx="1466.9" cy="2036.7" r="11.1"/><circle cx="1506.1" cy="2105.6" r="11.1"/><circle cx="1545.3" cy="2170.0" r="11.1"/><circle cx="1584.5" cy="2230.9" r="11.1"/><circle cx="1623.7" cy="2283.2" r="11.1"/><circle cx="1662.9" cy="2327.0" r="11.1"/><circle cx="1702.1" cy="2360.9" r="11.1"/><circle cx="1741.3" cy="2387.8" r="11.1"/><circle cx="1780.5" cy="2409.1" r="11.1"/><circle cx="1819.7" cy="2422.0" r="11.1"/><circle cx="1858.9" cy="2431.6" r="11.1"/><circle cx="1898.1" cy="2438.4" r="11.1"/></g><path d="M262.0 1790.0C262.8 1777.2 265.3 1734.7 267.0 1713.0C268.7 1691.3 270.3 1675.5 272.0 1660.0C273.7 1644.5 275.3 1631.3 277.0 1620.0C278.7 1608.7 280.4 1597.8 282.0 1592.0C283.6 1586.2 284.3 1584.6 286.3 1584.9C288.3 1585.2 291.8 1588.9 294.0 1594.0C296.2 1599.1 297.8 1609.0 299.7 1615.5C301.6 1622.0 303.3 1627.6 305.5 1632.7C307.7 1637.8 310.4 1640.6 313.0 1646.0C315.6 1651.4 318.2 1658.7 320.8 1665.0C323.4 1671.3 325.9 1678.5 328.4 1684.0C330.9 1689.5 333.4 1694.6 336.0 1697.7C338.6 1700.8 341.1 1702.2 343.7 1702.5C346.3 1702.8 348.5 1702.0 351.4 1699.6C354.3 1697.2 357.8 1693.1 361.0 1688.0C364.2 1682.9 367.3 1675.7 370.5 1669.0C373.7 1662.3 376.8 1656.0 380.0 1648.0C383.2 1640.0 386.3 1630.8 389.6 1621.0C392.9 1611.2 396.2 1601.8 400.0 1589.5C403.8 1577.2 408.3 1561.4 412.5 1547.0C416.7 1532.6 420.8 1516.8 425.0 1503.0C429.2 1489.2 433.8 1473.7 437.5 1464.0C441.2 1454.3 444.0 1449.4 447.5 1445.0C451.0 1440.6 455.0 1437.5 458.8 1437.5C462.5 1437.5 466.5 1440.4 470.0 1445.0C473.5 1449.6 476.7 1457.5 480.0 1465.0C483.3 1472.5 486.7 1481.2 490.0 1490.0C493.3 1498.8 496.2 1507.5 500.0 1517.5C503.8 1527.5 508.3 1539.6 512.5 1550.0C516.7 1560.4 520.8 1569.3 525.0 1580.0C529.2 1590.7 533.3 1603.7 537.5 1614.0C541.7 1624.3 545.4 1633.0 550.0 1642.0C554.6 1651.0 558.3 1660.0 565.0 1668.0C571.7 1676.0 583.8 1683.0 590.0 1690.0C596.2 1697.0 598.3 1702.9 602.5 1710.0C606.7 1717.1 610.8 1725.4 615.0 1732.5C619.2 1739.6 623.3 1745.8 627.5 1752.5C631.7 1759.2 635.8 1767.1 640.0 1772.5C644.2 1777.9 647.5 1781.5 652.5 1785.0C657.5 1788.5 664.6 1790.4 670.0 1793.8C675.4 1797.1 680.4 1800.6 685.0 1805.0C689.6 1809.4 693.8 1814.2 697.5 1820.0C701.2 1825.8 704.6 1833.3 707.5 1840.0C710.4 1846.7 712.5 1852.5 715.0 1860.0C717.5 1867.5 720.0 1876.7 722.5 1885.0C725.0 1893.3 727.5 1900.8 730.0 1910.0C732.5 1919.2 735.0 1930.0 737.5 1940.0C740.0 1950.0 742.5 1960.0 745.0 1970.0C747.5 1980.0 749.6 1989.6 752.5 2000.0C755.4 2010.4 759.2 2022.5 762.5 2032.5C765.8 2042.5 769.2 2052.5 772.5 2060.0C775.8 2067.5 778.8 2072.5 782.5 2077.5C786.2 2082.5 790.4 2087.4 795.0 2090.0C799.6 2092.6 805.4 2092.4 810.0 2093.0C814.6 2093.6 818.3 2092.6 822.5 2093.8C826.7 2094.9 831.2 2096.0 835.0 2100.0C838.8 2104.0 841.7 2110.0 845.0 2117.5C848.3 2125.0 852.1 2135.4 855.0 2145.0C857.9 2154.6 860.0 2164.6 862.5 2175.0C865.0 2185.4 867.5 2196.7 870.0 2207.5C872.5 2218.3 875.0 2229.6 877.5 2240.0C880.0 2250.4 882.5 2260.0 885.0 2270.0C887.5 2280.0 890.0 2290.8 892.5 2300.0C895.0 2309.2 897.1 2316.7 900.0 2325.0C902.9 2333.3 906.7 2342.5 910.0 2350.0C913.3 2357.5 916.2 2363.8 920.0 2370.0C923.8 2376.2 927.9 2382.5 932.5 2387.5C937.1 2392.5 942.9 2396.7 947.5 2400.0C952.1 2403.3 955.2 2404.7 960.0 2407.1C964.8 2409.5 970.7 2412.1 976.0 2414.4C981.3 2416.6 986.7 2418.6 992.0 2420.5C997.3 2422.4 1002.7 2424.4 1008.0 2426.0C1013.3 2427.6 1018.7 2429.0 1024.0 2430.3C1029.3 2431.6 1034.7 2432.7 1040.0 2433.7C1045.3 2434.7 1050.7 2435.5 1056.0 2436.3C1061.3 2437.1 1066.7 2437.7 1072.0 2438.3C1077.3 2438.9 1082.7 2439.5 1088.0 2439.9C1093.3 2440.4 1098.7 2440.8 1104.0 2441.1C1109.3 2441.5 1114.7 2441.8 1120.0 2442.1C1125.3 2442.4 1130.7 2442.6 1136.0 2442.8C1141.3 2443.1 1146.7 2443.4 1152.0 2443.6C1157.3 2443.8 1162.7 2444.1 1168.0 2444.3C1173.3 2444.5 1178.7 2444.7 1184.0 2444.9C1189.3 2445.1 1194.7 2445.3 1200.0 2445.5C1205.3 2445.7 1210.7 2445.9 1216.0 2446.1C1221.3 2446.2 1226.7 2446.5 1232.0 2446.6C1237.3 2446.8 1242.7 2447.0 1248.0 2447.2C1253.3 2447.3 1258.7 2447.4 1264.0 2447.4C1269.3 2447.5 1274.7 2447.5 1280.0 2447.6C1285.3 2447.7 1290.7 2447.7 1296.0 2447.8C1301.3 2447.8 1306.7 2447.9 1312.0 2447.9C1317.3 2448.0 1322.7 2448.0 1328.0 2448.1C1333.3 2448.1 1338.7 2448.2 1344.0 2448.2C1349.3 2448.3 1354.7 2448.3 1360.0 2448.4C1365.3 2448.5 1370.7 2448.5 1376.0 2448.6C1381.3 2448.6 1386.7 2448.7 1392.0 2448.7C1397.3 2448.8 1402.7 2448.8 1408.0 2448.8C1413.3 2448.8 1418.7 2448.8 1424.0 2448.9C1429.3 2448.9 1434.7 2448.9 1440.0 2448.9C1445.3 2448.9 1450.7 2448.9 1456.0 2448.9C1461.3 2449.0 1466.7 2449.0 1472.0 2449.0C1477.3 2449.0 1482.7 2449.0 1488.0 2449.0C1493.3 2449.0 1498.7 2449.0 1504.0 2449.1C1509.3 2449.1 1514.7 2449.1 1520.0 2449.1C1525.3 2449.1 1530.7 2449.1 1536.0 2449.1C1541.3 2449.2 1546.7 2449.2 1552.0 2449.2C1557.3 2449.2 1562.7 2449.2 1568.0 2449.2C1573.3 2449.2 1578.7 2449.2 1584.0 2449.3C1589.3 2449.3 1594.7 2449.3 1600.0 2449.3C1605.3 2449.3 1610.7 2449.3 1616.0 2449.3C1621.3 2449.3 1626.7 2449.3 1632.0 2449.3C1637.3 2449.3 1642.7 2449.3 1648.0 2449.3C1653.3 2449.3 1658.7 2449.3 1664.0 2449.3C1669.3 2449.3 1674.7 2449.3 1680.0 2449.3C1685.3 2449.4 1690.7 2449.4 1696.0 2449.4C1701.3 2449.4 1706.7 2449.4 1712.0 2449.4C1717.3 2449.4 1722.7 2449.4 1728.0 2449.4C1733.3 2449.4 1738.7 2449.4 1744.0 2449.4C1749.3 2449.4 1754.7 2449.4 1760.0 2449.4C1765.3 2449.4 1770.7 2449.4 1776.0 2449.4C1781.3 2449.4 1786.7 2449.4 1792.0 2449.4C1797.3 2449.4 1802.7 2449.4 1808.0 2449.4C1813.3 2449.4 1818.7 2449.4 1824.0 2449.4C1829.3 2449.4 1834.7 2449.4 1840.0 2449.4C1845.3 2449.4 1850.7 2449.4 1856.0 2449.5C1861.3 2449.5 1866.7 2449.5 1872.0 2449.5C1877.3 2449.5 1882.7 2449.5 1888.0 2449.5C1893.3 2449.5 1898.7 2449.5 1904.0 2449.5C1909.3 2449.5 1914.7 2449.5 1920.0 2449.5C1925.3 2449.5 1932.7 2449.5 1936.0 2449.5C1939.3 2449.5 1939.3 2449.5 1940.0 2449.5" fill="none" stroke="#000099" stroke-width="11.5" stroke-linejoin="round" stroke-linecap="butt"/><path d="M262.0 1700.0C262.9 1703.8 264.7 1712.5 267.2 1722.6C269.7 1732.7 273.9 1750.3 276.8 1760.8C279.7 1771.3 282.0 1778.1 284.4 1785.7C286.8 1793.3 288.7 1799.3 290.9 1806.3C293.1 1813.3 295.4 1822.9 297.8 1827.8C300.2 1832.7 302.3 1834.0 305.5 1835.4C308.7 1836.8 314.1 1838.0 317.0 1836.4C319.9 1834.8 320.5 1830.8 322.7 1825.8C324.9 1820.8 327.2 1815.5 330.1 1806.3C333.0 1797.1 336.3 1781.2 339.9 1770.4C343.4 1759.6 347.9 1750.3 351.4 1741.7C354.9 1733.1 357.9 1725.6 360.9 1718.7C363.9 1711.8 366.1 1707.5 369.3 1700.6C372.5 1693.6 376.3 1685.9 380.0 1677.0C383.7 1668.1 388.2 1655.3 391.5 1647.0C394.8 1638.7 397.2 1632.8 400.0 1627.0C402.8 1621.2 404.3 1617.5 408.5 1612.0C412.7 1606.5 421.0 1599.0 425.0 1594.0C429.0 1589.0 430.0 1586.3 432.5 1582.0C435.0 1577.7 437.5 1572.1 440.0 1568.0C442.5 1563.9 444.8 1555.9 447.7 1557.5C450.6 1559.1 454.6 1568.8 457.5 1577.5C460.4 1586.2 462.5 1599.2 465.0 1610.0C467.5 1620.8 470.0 1632.1 472.5 1642.5C475.0 1652.9 477.6 1663.1 480.0 1672.5C482.4 1681.9 484.4 1690.0 486.9 1698.8C489.4 1707.5 491.6 1717.3 495.0 1725.0C498.4 1732.7 502.3 1739.0 507.5 1745.0C512.7 1751.0 519.9 1759.2 526.1 1761.2C532.4 1763.3 540.2 1758.7 545.0 1757.5C549.8 1756.3 551.6 1752.9 555.0 1754.0C558.4 1755.1 561.5 1757.2 565.3 1764.0C569.0 1770.8 573.4 1784.0 577.5 1795.0C581.6 1806.0 585.5 1819.1 590.0 1830.0C594.5 1840.9 600.3 1853.4 604.5 1860.5C608.7 1867.6 611.2 1870.3 615.0 1872.5C618.8 1874.7 622.7 1874.7 627.5 1873.8C632.3 1872.8 638.7 1868.5 643.7 1867.0C648.7 1865.5 653.1 1862.8 657.5 1865.0C661.9 1867.2 666.7 1874.2 670.0 1880.0C673.3 1885.8 675.4 1894.0 677.5 1900.0C679.6 1906.0 680.4 1907.5 682.9 1916.2C685.4 1925.0 689.2 1939.4 692.5 1952.5C695.8 1965.6 699.2 1981.7 702.5 1995.0C705.8 2008.3 709.2 2019.4 712.5 2032.5C715.8 2045.6 718.8 2061.7 722.1 2073.8C725.4 2085.8 728.7 2095.6 732.5 2105.0C736.3 2114.4 740.2 2122.5 745.0 2130.0C749.8 2137.5 756.3 2147.9 761.3 2150.0C766.3 2152.1 770.6 2145.8 775.0 2142.5C779.4 2139.2 783.2 2131.0 787.5 2130.0C791.8 2129.0 795.9 2130.8 800.5 2136.2C805.1 2141.7 810.9 2152.7 815.0 2162.5C819.1 2172.3 822.1 2184.6 825.0 2195.0C827.9 2205.4 830.0 2215.6 832.5 2225.0C835.0 2234.4 836.8 2240.8 839.7 2251.2C842.6 2261.7 846.6 2275.2 850.0 2287.5C853.4 2299.8 856.7 2314.2 860.0 2325.0C863.3 2335.8 866.9 2345.0 870.0 2352.5C873.1 2360.0 874.7 2363.3 878.9 2370.0C883.1 2376.7 888.5 2385.3 895.0 2392.5C901.5 2399.7 907.7 2407.4 918.1 2413.0C928.5 2418.6 944.2 2422.2 957.3 2426.0C970.4 2429.8 983.4 2433.5 996.5 2436.0C1009.6 2438.5 1022.6 2439.6 1035.7 2441.0C1048.8 2442.4 1061.8 2443.1 1074.9 2444.3C1088.0 2445.5 1101.0 2447.1 1114.1 2448.0C1127.2 2448.9 1140.2 2449.5 1153.3 2450.0C1166.4 2450.5 1179.4 2450.6 1192.5 2450.8C1205.6 2451.0 1218.6 2451.1 1231.7 2451.2C1244.8 2451.3 1257.8 2451.2 1270.9 2451.2C1284.0 2451.2 1297.0 2451.2 1310.1 2451.2C1323.2 2451.2 1336.2 2451.2 1349.3 2451.2C1362.4 2451.2 1375.4 2451.2 1388.5 2451.2C1401.6 2451.2 1414.6 2451.2 1427.7 2451.2C1440.8 2451.2 1453.8 2451.2 1466.9 2451.2C1480.0 2451.2 1493.0 2451.2 1506.1 2451.2C1519.2 2451.2 1532.2 2451.2 1545.3 2451.2C1558.4 2451.2 1571.4 2451.2 1584.5 2451.2C1597.6 2451.2 1610.6 2451.2 1623.7 2451.2C1636.8 2451.2 1649.8 2451.2 1662.9 2451.2C1676.0 2451.2 1689.0 2451.2 1702.1 2451.2C1715.2 2451.2 1728.2 2451.2 1741.3 2451.2C1754.4 2451.2 1767.4 2451.2 1780.5 2451.2C1793.6 2451.2 1806.6 2451.2 1819.7 2451.2C1832.8 2451.2 1845.8 2451.2 1858.9 2451.2C1872.0 2451.2 1884.6 2451.2 1898.1 2451.2C1911.6 2451.2 1933.0 2451.2 1940.0 2451.2" fill="none" stroke="#00a6f0" stroke-width="11.5" stroke-linejoin="round" stroke-linecap="butt"/><g fill="#fff" stroke="#00a6f0" stroke-width="3.5"><circle cx="290.9" cy="1806.3" r="11.1"/><circle cx="330.1" cy="1806.3" r="11.1"/><circle cx="369.3" cy="1700.6" r="11.1"/><circle cx="408.5" cy="1612.0" r="11.1"/><circle cx="447.7" cy="1557.5" r="11.1"/><circle cx="486.9" cy="1698.8" r="11.1"/><circle cx="526.1" cy="1761.2" r="11.1"/><circle cx="565.3" cy="1764.0" r="11.1"/><circle cx="604.5" cy="1860.5" r="11.1"/><circle cx="643.7" cy="1867.0" r="11.1"/><circle cx="682.9" cy="1916.2" r="11.1"/><circle cx="722.1" cy="2073.8" r="11.1"/><circle cx="761.3" cy="2150.0" r="11.1"/><circle cx="800.5" cy="2136.2" r="11.1"/><circle cx="839.7" cy="2251.2" r="11.1"/><circle cx="878.9" cy="2370.0" r="11.1"/><circle cx="918.1" cy="2413.0" r="11.1"/><circle cx="957.3" cy="2426.0" r="11.1"/><circle cx="996.5" cy="2436.0" r="11.1"/><circle cx="1035.7" cy="2441.0" r="11.1"/><circle cx="1074.9" cy="2444.0" r="11.1"/><circle cx="1114.1" cy="2446.3" r="11.1"/><circle cx="1153.3" cy="2447.4" r="11.1"/><circle cx="1192.5" cy="2448.0" r="11.1"/><circle cx="1231.7" cy="2448.3" r="11.1"/><circle cx="1270.9" cy="2448.3" r="11.1"/><circle cx="1310.1" cy="2448.3" r="11.1"/><circle cx="1349.3" cy="2448.3" r="11.1"/><circle cx="1388.5" cy="2448.3" r="11.1"/><circle cx="1427.7" cy="2448.3" r="11.1"/><circle cx="1466.9" cy="2448.3" r="11.1"/><circle cx="1506.1" cy="2448.3" r="11.1"/><circle cx="1545.3" cy="2448.3" r="11.1"/><circle cx="1584.5" cy="2448.3" r="11.1"/><circle cx="1623.7" cy="2448.3" r="11.1"/><circle cx="1662.9" cy="2448.3" r="11.1"/><circle cx="1702.1" cy="2448.3" r="11.1"/><circle cx="1741.3" cy="2448.3" r="11.1"/><circle cx="1780.5" cy="2448.3" r="11.1"/><circle cx="1819.7" cy="2448.3" r="11.1"/><circle cx="1858.9" cy="2448.3" r="11.1"/><circle cx="1898.1" cy="2448.3" r="11.1"/></g></g>
<g clip-path="url(#cs)" opacity="0.76"><path d="M262.0 1700.0C262.8 1690.0 265.4 1658.0 267.0 1640.0C268.6 1622.0 270.1 1604.0 271.5 1592.0C272.9 1580.0 274.1 1573.5 275.5 1568.0C276.9 1562.5 278.2 1559.8 280.2 1559.2C282.2 1558.6 285.3 1562.4 287.4 1564.5C289.5 1566.6 291.4 1568.5 292.7 1571.7C294.0 1574.9 294.6 1578.6 295.1 1583.6C295.6 1588.5 295.6 1595.5 295.9 1601.4C296.1 1607.4 296.2 1614.5 296.6 1619.3C297.0 1624.1 297.4 1628.0 298.5 1630.0C299.6 1632.0 301.5 1631.6 303.0 1631.5C304.5 1631.4 305.4 1630.3 307.6 1629.5C309.8 1628.7 313.6 1627.9 316.0 1626.8C318.4 1625.7 320.2 1624.5 322.0 1623.0C323.8 1621.5 324.7 1621.2 326.7 1618.0C328.7 1614.8 331.0 1610.7 333.8 1604.0C336.6 1597.3 340.5 1586.0 343.3 1577.6C346.1 1569.2 348.5 1560.7 350.5 1553.8C352.5 1546.9 353.2 1542.6 355.2 1536.0C357.2 1529.4 359.2 1523.3 362.5 1514.0C365.8 1504.7 370.8 1490.7 375.0 1480.0C379.2 1469.3 383.3 1459.0 387.5 1450.0C391.7 1441.0 395.8 1432.2 400.0 1426.0C404.2 1419.8 407.9 1415.9 412.5 1412.5C417.1 1409.1 422.9 1406.3 427.5 1405.5C432.1 1404.7 435.4 1406.6 440.0 1407.5C444.6 1408.4 450.0 1409.3 455.0 1411.0C460.0 1412.7 465.0 1416.0 470.0 1417.5C475.0 1419.0 480.0 1419.0 485.0 1420.0C490.0 1421.0 495.4 1422.1 500.0 1423.8C504.6 1425.4 508.3 1427.3 512.5 1430.0C516.7 1432.7 520.8 1436.2 525.0 1440.0C529.2 1443.8 533.3 1447.9 537.5 1452.5C541.7 1457.1 545.8 1462.5 550.0 1467.5C554.2 1472.5 558.3 1475.4 562.5 1482.5C566.7 1489.6 570.8 1500.0 575.0 1510.0C579.2 1520.0 583.3 1530.8 587.5 1542.5C591.7 1554.2 595.8 1566.2 600.0 1580.0C604.2 1593.8 608.8 1609.6 612.5 1625.0C616.2 1640.4 619.2 1657.5 622.5 1672.5C625.8 1687.5 629.2 1699.6 632.5 1715.0C635.8 1730.4 639.6 1749.2 642.5 1765.0C645.4 1780.8 647.5 1795.8 650.0 1810.0C652.5 1824.2 655.0 1838.3 657.5 1850.0C660.0 1861.7 662.1 1869.2 665.0 1880.0C667.9 1890.8 672.1 1903.8 675.0 1915.0C677.9 1926.2 679.6 1935.0 682.5 1947.5C685.4 1960.0 687.9 1975.0 692.5 1990.0C697.1 2005.0 704.6 2023.3 710.0 2037.5C715.4 2051.7 720.0 2062.5 725.0 2075.0C730.0 2087.5 735.0 2100.0 740.0 2112.5C745.0 2125.0 750.0 2138.8 755.0 2150.0C760.0 2161.2 765.0 2171.7 770.0 2180.0C775.0 2188.3 780.0 2194.2 785.0 2200.0C790.0 2205.8 795.0 2211.2 800.0 2215.0C805.0 2218.8 809.6 2220.8 815.0 2222.5C820.4 2224.2 826.7 2225.2 832.5 2225.0C838.3 2224.8 843.8 2223.1 850.0 2221.0C856.2 2218.9 863.3 2216.0 870.0 2212.5C876.7 2209.0 883.8 2204.2 890.0 2200.0C896.2 2195.8 901.7 2192.5 907.5 2187.5C913.3 2182.5 918.8 2176.2 925.0 2170.0C931.2 2163.8 939.2 2156.1 945.0 2150.0C950.8 2143.9 954.8 2139.2 960.0 2133.1C965.2 2127.0 970.7 2119.9 976.0 2113.5C981.3 2107.1 986.7 2101.0 992.0 2094.8C997.3 2088.6 1002.7 2082.6 1008.0 2076.3C1013.3 2070.0 1018.7 2063.8 1024.0 2057.2C1029.3 2050.6 1034.7 2043.8 1040.0 2036.7C1045.3 2029.7 1050.7 2022.2 1056.0 2014.9C1061.3 2007.5 1066.7 2000.0 1072.0 1992.5C1077.3 1985.0 1082.7 1977.6 1088.0 1969.8C1093.3 1962.1 1098.7 1954.2 1104.0 1946.1C1109.3 1938.0 1114.7 1929.6 1120.0 1921.2C1125.3 1912.8 1130.7 1904.2 1136.0 1895.7C1141.3 1887.3 1146.7 1878.7 1152.0 1870.6C1157.3 1862.5 1162.7 1854.5 1168.0 1847.1C1173.3 1839.7 1178.7 1832.9 1184.0 1826.4C1189.3 1819.8 1194.7 1813.7 1200.0 1807.8C1205.3 1802.0 1210.7 1796.3 1216.0 1791.1C1221.3 1785.9 1226.7 1780.9 1232.0 1776.6C1237.3 1772.2 1242.7 1768.4 1248.0 1765.3C1253.3 1762.2 1258.7 1759.7 1264.0 1757.9C1269.3 1756.2 1274.7 1755.3 1280.0 1754.9C1285.3 1754.6 1290.7 1755.0 1296.0 1756.1C1301.3 1757.1 1306.7 1758.8 1312.0 1761.2C1317.3 1763.5 1322.7 1766.5 1328.0 1770.1C1333.3 1773.7 1338.7 1777.9 1344.0 1782.7C1349.3 1787.5 1354.7 1792.9 1360.0 1798.8C1365.3 1804.7 1370.7 1811.3 1376.0 1818.4C1381.3 1825.4 1386.7 1833.1 1392.0 1841.2C1397.3 1849.2 1402.7 1857.8 1408.0 1866.6C1413.3 1875.4 1418.7 1884.7 1424.0 1894.1C1429.3 1903.4 1434.7 1913.1 1440.0 1922.9C1445.3 1932.6 1450.7 1942.5 1456.0 1952.6C1461.3 1962.6 1466.7 1972.5 1472.0 1983.0C1477.3 1993.5 1482.7 2004.4 1488.0 2015.6C1493.3 2026.7 1498.7 2038.5 1504.0 2049.8C1509.3 2061.1 1514.7 2072.3 1520.0 2083.2C1525.3 2094.1 1530.7 2104.7 1536.0 2115.1C1541.3 2125.5 1546.7 2135.7 1552.0 2145.6C1557.3 2155.4 1562.7 2165.0 1568.0 2174.1C1573.3 2183.3 1578.7 2192.1 1584.0 2200.6C1589.3 2209.1 1594.7 2217.2 1600.0 2225.1C1605.3 2232.9 1610.7 2240.4 1616.0 2247.7C1621.3 2255.0 1626.7 2261.9 1632.0 2268.7C1637.3 2275.5 1642.7 2282.1 1648.0 2288.4C1653.3 2294.8 1658.7 2301.0 1664.0 2306.8C1669.3 2312.7 1674.7 2318.2 1680.0 2323.5C1685.3 2328.8 1690.7 2333.7 1696.0 2338.4C1701.3 2343.1 1706.7 2347.4 1712.0 2351.6C1717.3 2355.8 1722.7 2359.8 1728.0 2363.6C1733.3 2367.4 1738.7 2371.0 1744.0 2374.4C1749.3 2377.8 1754.7 2381.0 1760.0 2384.0C1765.3 2387.0 1770.7 2389.8 1776.0 2392.4C1781.3 2395.0 1786.7 2397.5 1792.0 2399.8C1797.3 2402.1 1802.7 2404.3 1808.0 2406.3C1813.3 2408.3 1818.7 2410.1 1824.0 2411.8C1829.3 2413.5 1834.7 2415.0 1840.0 2416.4C1845.3 2417.8 1850.7 2419.1 1856.0 2420.3C1861.3 2421.5 1866.7 2422.7 1872.0 2423.8C1877.3 2424.9 1882.7 2426.0 1888.0 2427.0C1893.3 2428.0 1898.7 2429.1 1904.0 2430.0C1909.3 2430.9 1914.7 2431.7 1920.0 2432.4C1925.3 2433.1 1932.7 2434.0 1936.0 2434.3C1939.3 2434.7 1939.3 2434.7 1940.0 2434.8" fill="none" stroke="#800080" stroke-width="11.5" stroke-linejoin="round" stroke-linecap="butt"/><path d="M262.0 1745.0C262.9 1749.2 265.0 1758.3 267.2 1770.0C269.4 1781.7 272.7 1805.0 275.0 1815.0C277.3 1825.0 278.4 1826.1 281.0 1830.0C283.6 1833.9 286.8 1841.9 290.9 1838.3C295.0 1834.7 301.8 1819.9 305.5 1808.6C309.2 1797.3 310.2 1783.2 313.1 1770.4C316.0 1757.7 319.9 1740.9 322.7 1732.1C325.5 1723.2 327.6 1725.3 330.1 1717.3C332.6 1709.3 335.3 1694.6 337.5 1684.3C339.7 1674.0 341.4 1665.1 343.3 1655.6C345.2 1646.0 346.8 1638.2 349.0 1627.0C351.2 1615.8 354.5 1599.9 356.7 1588.7C358.9 1577.5 360.2 1573.1 362.3 1560.0C364.4 1546.9 366.3 1521.0 369.3 1510.0C372.2 1499.0 375.7 1492.1 380.0 1493.8C384.3 1495.4 391.2 1510.6 395.0 1520.0C398.8 1529.4 400.2 1542.1 402.5 1550.0C404.8 1557.9 405.6 1560.4 408.5 1567.5C411.4 1574.6 416.4 1586.2 420.0 1592.5C423.6 1598.8 425.4 1601.7 430.0 1605.0C434.6 1608.3 441.9 1610.4 447.7 1612.5C453.5 1614.6 460.4 1616.6 465.0 1617.5C469.6 1618.4 471.4 1619.9 475.0 1618.0C478.6 1616.1 481.9 1609.2 486.9 1606.2C491.9 1603.2 498.5 1598.3 505.0 1600.0C511.5 1601.7 520.7 1610.0 526.1 1616.2C531.5 1622.5 533.5 1630.2 537.5 1637.5C541.5 1644.8 545.4 1652.6 550.0 1660.0C554.6 1667.4 560.7 1673.2 565.3 1682.0C569.9 1690.8 573.8 1700.8 577.5 1712.5C581.2 1724.2 584.2 1738.8 587.5 1752.5C590.8 1766.2 594.7 1780.2 597.5 1795.0C600.3 1809.8 601.6 1825.4 604.5 1841.2C607.4 1857.1 611.6 1873.5 615.0 1890.0C618.4 1906.5 621.7 1923.3 625.0 1940.0C628.3 1956.7 631.9 1974.4 635.0 1990.0C638.1 2005.6 635.7 2006.5 643.7 2033.8C651.7 2061.0 669.8 2119.0 682.9 2153.8C696.0 2188.5 709.0 2219.9 722.1 2242.5C735.2 2265.1 748.2 2280.7 761.3 2289.5C774.4 2298.3 787.4 2295.8 800.5 2295.5C813.6 2295.2 826.6 2292.7 839.7 2287.5C852.8 2282.3 865.8 2274.2 878.9 2264.5C892.0 2254.8 905.0 2241.4 918.1 2229.5C931.2 2217.6 944.2 2206.6 957.3 2193.0C970.4 2179.4 983.4 2163.7 996.5 2148.0C1009.6 2132.3 1022.6 2115.1 1035.7 2099.0C1048.8 2082.9 1061.8 2068.5 1074.9 2051.7C1088.0 2034.9 1101.0 2015.5 1114.1 1998.3C1127.2 1981.1 1140.2 1963.7 1153.3 1948.3C1166.4 1932.9 1179.4 1918.0 1192.5 1905.7C1205.6 1893.4 1218.6 1882.8 1231.7 1874.3C1244.8 1865.8 1257.8 1858.1 1270.9 1855.0C1284.0 1851.9 1297.0 1851.8 1310.1 1855.7C1323.2 1859.6 1336.2 1868.0 1349.3 1878.3C1362.4 1888.6 1375.4 1901.5 1388.5 1917.3C1401.6 1933.1 1414.6 1953.4 1427.7 1973.3C1440.8 1993.2 1453.8 2014.7 1466.9 2036.7C1480.0 2058.8 1493.0 2083.4 1506.1 2105.6C1519.2 2127.8 1532.2 2149.1 1545.3 2170.0C1558.4 2190.9 1571.4 2212.0 1584.5 2230.9C1597.6 2249.8 1610.6 2267.2 1623.7 2283.2C1636.8 2299.2 1649.8 2314.1 1662.9 2327.0C1676.0 2339.9 1689.0 2350.8 1702.1 2360.9C1715.2 2371.0 1728.2 2379.8 1741.3 2387.8C1754.4 2395.8 1767.4 2403.4 1780.5 2409.1C1793.6 2414.8 1806.6 2418.2 1819.7 2422.0C1832.8 2425.8 1845.8 2428.9 1858.9 2431.6C1872.0 2434.3 1884.6 2436.3 1898.1 2438.4C1911.6 2440.5 1933.0 2443.1 1940.0 2444.0" fill="none" stroke="#ff00ff" stroke-width="11.5" stroke-linejoin="round" stroke-linecap="butt"/><g fill="#fff" stroke="#ff00ff" stroke-width="3.5"><circle cx="290.9" cy="1838.3" r="11.1"/><circle cx="330.1" cy="1717.3" r="11.1"/><circle cx="369.3" cy="1510.0" r="11.1"/><circle cx="408.5" cy="1567.5" r="11.1"/><circle cx="447.7" cy="1612.5" r="11.1"/><circle cx="486.9" cy="1606.2" r="11.1"/><circle cx="526.1" cy="1616.2" r="11.1"/><circle cx="565.3" cy="1682.0" r="11.1"/><circle cx="604.5" cy="1841.2" r="11.1"/><circle cx="643.7" cy="2033.8" r="11.1"/><circle cx="682.9" cy="2153.8" r="11.1"/><circle cx="722.1" cy="2242.5" r="11.1"/><circle cx="761.3" cy="2289.5" r="11.1"/><circle cx="800.5" cy="2295.5" r="11.1"/><circle cx="839.7" cy="2287.5" r="11.1"/><circle cx="878.9" cy="2264.5" r="11.1"/><circle cx="918.1" cy="2229.5" r="11.1"/><circle cx="957.3" cy="2193.0" r="11.1"/><circle cx="996.5" cy="2148.0" r="11.1"/><circle cx="1035.7" cy="2099.0" r="11.1"/><circle cx="1074.9" cy="2051.7" r="11.1"/><circle cx="1114.1" cy="1998.3" r="11.1"/><circle cx="1153.3" cy="1948.3" r="11.1"/><circle cx="1192.5" cy="1905.7" r="11.1"/><circle cx="1231.7" cy="1874.3" r="11.1"/><circle cx="1270.9" cy="1855.0" r="11.1"/><circle cx="1310.1" cy="1855.7" r="11.1"/><circle cx="1349.3" cy="1878.3" r="11.1"/><circle cx="1388.5" cy="1917.3" r="11.1"/><circle cx="1427.7" cy="1973.3" r="11.1"/><circle cx="1466.9" cy="2036.7" r="11.1"/><circle cx="1506.1" cy="2105.6" r="11.1"/><circle cx="1545.3" cy="2170.0" r="11.1"/><circle cx="1584.5" cy="2230.9" r="11.1"/><circle cx="1623.7" cy="2283.2" r="11.1"/><circle cx="1662.9" cy="2327.0" r="11.1"/><circle cx="1702.1" cy="2360.9" r="11.1"/><circle cx="1741.3" cy="2387.8" r="11.1"/><circle cx="1780.5" cy="2409.1" r="11.1"/><circle cx="1819.7" cy="2422.0" r="11.1"/><circle cx="1858.9" cy="2431.6" r="11.1"/><circle cx="1898.1" cy="2438.4" r="11.1"/></g><path d="M262.0 1790.0C262.8 1777.2 265.3 1734.7 267.0 1713.0C268.7 1691.3 270.3 1675.5 272.0 1660.0C273.7 1644.5 275.3 1631.3 277.0 1620.0C278.7 1608.7 280.4 1597.8 282.0 1592.0C283.6 1586.2 284.3 1584.6 286.3 1584.9C288.3 1585.2 291.8 1588.9 294.0 1594.0C296.2 1599.1 297.8 1609.0 299.7 1615.5C301.6 1622.0 303.3 1627.6 305.5 1632.7C307.7 1637.8 310.4 1640.6 313.0 1646.0C315.6 1651.4 318.2 1658.7 320.8 1665.0C323.4 1671.3 325.9 1678.5 328.4 1684.0C330.9 1689.5 333.4 1694.6 336.0 1697.7C338.6 1700.8 341.1 1702.2 343.7 1702.5C346.3 1702.8 348.5 1702.0 351.4 1699.6C354.3 1697.2 357.8 1693.1 361.0 1688.0C364.2 1682.9 367.3 1675.7 370.5 1669.0C373.7 1662.3 376.8 1656.0 380.0 1648.0C383.2 1640.0 386.3 1630.8 389.6 1621.0C392.9 1611.2 396.2 1601.8 400.0 1589.5C403.8 1577.2 408.3 1561.4 412.5 1547.0C416.7 1532.6 420.8 1516.8 425.0 1503.0C429.2 1489.2 433.8 1473.7 437.5 1464.0C441.2 1454.3 444.0 1449.4 447.5 1445.0C451.0 1440.6 455.0 1437.5 458.8 1437.5C462.5 1437.5 466.5 1440.4 470.0 1445.0C473.5 1449.6 476.7 1457.5 480.0 1465.0C483.3 1472.5 486.7 1481.2 490.0 1490.0C493.3 1498.8 496.2 1507.5 500.0 1517.5C503.8 1527.5 508.3 1539.6 512.5 1550.0C516.7 1560.4 520.8 1569.3 525.0 1580.0C529.2 1590.7 533.3 1603.7 537.5 1614.0C541.7 1624.3 545.4 1633.0 550.0 1642.0C554.6 1651.0 558.3 1660.0 565.0 1668.0C571.7 1676.0 583.8 1683.0 590.0 1690.0C596.2 1697.0 598.3 1702.9 602.5 1710.0C606.7 1717.1 610.8 1725.4 615.0 1732.5C619.2 1739.6 623.3 1745.8 627.5 1752.5C631.7 1759.2 635.8 1767.1 640.0 1772.5C644.2 1777.9 647.5 1781.5 652.5 1785.0C657.5 1788.5 664.6 1790.4 670.0 1793.8C675.4 1797.1 680.4 1800.6 685.0 1805.0C689.6 1809.4 693.8 1814.2 697.5 1820.0C701.2 1825.8 704.6 1833.3 707.5 1840.0C710.4 1846.7 712.5 1852.5 715.0 1860.0C717.5 1867.5 720.0 1876.7 722.5 1885.0C725.0 1893.3 727.5 1900.8 730.0 1910.0C732.5 1919.2 735.0 1930.0 737.5 1940.0C740.0 1950.0 742.5 1960.0 745.0 1970.0C747.5 1980.0 749.6 1989.6 752.5 2000.0C755.4 2010.4 759.2 2022.5 762.5 2032.5C765.8 2042.5 769.2 2052.5 772.5 2060.0C775.8 2067.5 778.8 2072.5 782.5 2077.5C786.2 2082.5 790.4 2087.4 795.0 2090.0C799.6 2092.6 805.4 2092.4 810.0 2093.0C814.6 2093.6 818.3 2092.6 822.5 2093.8C826.7 2094.9 831.2 2096.0 835.0 2100.0C838.8 2104.0 841.7 2110.0 845.0 2117.5C848.3 2125.0 852.1 2135.4 855.0 2145.0C857.9 2154.6 860.0 2164.6 862.5 2175.0C865.0 2185.4 867.5 2196.7 870.0 2207.5C872.5 2218.3 875.0 2229.6 877.5 2240.0C880.0 2250.4 882.5 2260.0 885.0 2270.0C887.5 2280.0 890.0 2290.8 892.5 2300.0C895.0 2309.2 897.1 2316.7 900.0 2325.0C902.9 2333.3 906.7 2342.5 910.0 2350.0C913.3 2357.5 916.2 2363.8 920.0 2370.0C923.8 2376.2 927.9 2382.5 932.5 2387.5C937.1 2392.5 942.9 2396.7 947.5 2400.0C952.1 2403.3 955.2 2404.7 960.0 2407.1C964.8 2409.5 970.7 2412.1 976.0 2414.4C981.3 2416.6 986.7 2418.6 992.0 2420.5C997.3 2422.4 1002.7 2424.4 1008.0 2426.0C1013.3 2427.6 1018.7 2429.0 1024.0 2430.3C1029.3 2431.6 1034.7 2432.7 1040.0 2433.7C1045.3 2434.7 1050.7 2435.5 1056.0 2436.3C1061.3 2437.1 1066.7 2437.7 1072.0 2438.3C1077.3 2438.9 1082.7 2439.5 1088.0 2439.9C1093.3 2440.4 1098.7 2440.8 1104.0 2441.1C1109.3 2441.5 1114.7 2441.8 1120.0 2442.1C1125.3 2442.4 1130.7 2442.6 1136.0 2442.8C1141.3 2443.1 1146.7 2443.4 1152.0 2443.6C1157.3 2443.8 1162.7 2444.1 1168.0 2444.3C1173.3 2444.5 1178.7 2444.7 1184.0 2444.9C1189.3 2445.1 1194.7 2445.3 1200.0 2445.5C1205.3 2445.7 1210.7 2445.9 1216.0 2446.1C1221.3 2446.2 1226.7 2446.5 1232.0 2446.6C1237.3 2446.8 1242.7 2447.0 1248.0 2447.2C1253.3 2447.3 1258.7 2447.4 1264.0 2447.4C1269.3 2447.5 1274.7 2447.5 1280.0 2447.6C1285.3 2447.7 1290.7 2447.7 1296.0 2447.8C1301.3 2447.8 1306.7 2447.9 1312.0 2447.9C1317.3 2448.0 1322.7 2448.0 1328.0 2448.1C1333.3 2448.1 1338.7 2448.2 1344.0 2448.2C1349.3 2448.3 1354.7 2448.3 1360.0 2448.4C1365.3 2448.5 1370.7 2448.5 1376.0 2448.6C1381.3 2448.6 1386.7 2448.7 1392.0 2448.7C1397.3 2448.8 1402.7 2448.8 1408.0 2448.8C1413.3 2448.8 1418.7 2448.8 1424.0 2448.9C1429.3 2448.9 1434.7 2448.9 1440.0 2448.9C1445.3 2448.9 1450.7 2448.9 1456.0 2448.9C1461.3 2449.0 1466.7 2449.0 1472.0 2449.0C1477.3 2449.0 1482.7 2449.0 1488.0 2449.0C1493.3 2449.0 1498.7 2449.0 1504.0 2449.1C1509.3 2449.1 1514.7 2449.1 1520.0 2449.1C1525.3 2449.1 1530.7 2449.1 1536.0 2449.1C1541.3 2449.2 1546.7 2449.2 1552.0 2449.2C1557.3 2449.2 1562.7 2449.2 1568.0 2449.2C1573.3 2449.2 1578.7 2449.2 1584.0 2449.3C1589.3 2449.3 1594.7 2449.3 1600.0 2449.3C1605.3 2449.3 1610.7 2449.3 1616.0 2449.3C1621.3 2449.3 1626.7 2449.3 1632.0 2449.3C1637.3 2449.3 1642.7 2449.3 1648.0 2449.3C1653.3 2449.3 1658.7 2449.3 1664.0 2449.3C1669.3 2449.3 1674.7 2449.3 1680.0 2449.3C1685.3 2449.4 1690.7 2449.4 1696.0 2449.4C1701.3 2449.4 1706.7 2449.4 1712.0 2449.4C1717.3 2449.4 1722.7 2449.4 1728.0 2449.4C1733.3 2449.4 1738.7 2449.4 1744.0 2449.4C1749.3 2449.4 1754.7 2449.4 1760.0 2449.4C1765.3 2449.4 1770.7 2449.4 1776.0 2449.4C1781.3 2449.4 1786.7 2449.4 1792.0 2449.4C1797.3 2449.4 1802.7 2449.4 1808.0 2449.4C1813.3 2449.4 1818.7 2449.4 1824.0 2449.4C1829.3 2449.4 1834.7 2449.4 1840.0 2449.4C1845.3 2449.4 1850.7 2449.4 1856.0 2449.5C1861.3 2449.5 1866.7 2449.5 1872.0 2449.5C1877.3 2449.5 1882.7 2449.5 1888.0 2449.5C1893.3 2449.5 1898.7 2449.5 1904.0 2449.5C1909.3 2449.5 1914.7 2449.5 1920.0 2449.5C1925.3 2449.5 1932.7 2449.5 1936.0 2449.5C1939.3 2449.5 1939.3 2449.5 1940.0 2449.5" fill="none" stroke="#000099" stroke-width="11.5" stroke-linejoin="round" stroke-linecap="butt"/><path d="M262.0 1700.0C262.9 1703.8 264.7 1712.5 267.2 1722.6C269.7 1732.7 273.9 1750.3 276.8 1760.8C279.7 1771.3 282.0 1778.1 284.4 1785.7C286.8 1793.3 288.7 1799.3 290.9 1806.3C293.1 1813.3 295.4 1822.9 297.8 1827.8C300.2 1832.7 302.3 1834.0 305.5 1835.4C308.7 1836.8 314.1 1838.0 317.0 1836.4C319.9 1834.8 320.5 1830.8 322.7 1825.8C324.9 1820.8 327.2 1815.5 330.1 1806.3C333.0 1797.1 336.3 1781.2 339.9 1770.4C343.4 1759.6 347.9 1750.3 351.4 1741.7C354.9 1733.1 357.9 1725.6 360.9 1718.7C363.9 1711.8 366.1 1707.5 369.3 1700.6C372.5 1693.6 376.3 1685.9 380.0 1677.0C383.7 1668.1 388.2 1655.3 391.5 1647.0C394.8 1638.7 397.2 1632.8 400.0 1627.0C402.8 1621.2 404.3 1617.5 408.5 1612.0C412.7 1606.5 421.0 1599.0 425.0 1594.0C429.0 1589.0 430.0 1586.3 432.5 1582.0C435.0 1577.7 437.5 1572.1 440.0 1568.0C442.5 1563.9 444.8 1555.9 447.7 1557.5C450.6 1559.1 454.6 1568.8 457.5 1577.5C460.4 1586.2 462.5 1599.2 465.0 1610.0C467.5 1620.8 470.0 1632.1 472.5 1642.5C475.0 1652.9 477.6 1663.1 480.0 1672.5C482.4 1681.9 484.4 1690.0 486.9 1698.8C489.4 1707.5 491.6 1717.3 495.0 1725.0C498.4 1732.7 502.3 1739.0 507.5 1745.0C512.7 1751.0 519.9 1759.2 526.1 1761.2C532.4 1763.3 540.2 1758.7 545.0 1757.5C549.8 1756.3 551.6 1752.9 555.0 1754.0C558.4 1755.1 561.5 1757.2 565.3 1764.0C569.0 1770.8 573.4 1784.0 577.5 1795.0C581.6 1806.0 585.5 1819.1 590.0 1830.0C594.5 1840.9 600.3 1853.4 604.5 1860.5C608.7 1867.6 611.2 1870.3 615.0 1872.5C618.8 1874.7 622.7 1874.7 627.5 1873.8C632.3 1872.8 638.7 1868.5 643.7 1867.0C648.7 1865.5 653.1 1862.8 657.5 1865.0C661.9 1867.2 666.7 1874.2 670.0 1880.0C673.3 1885.8 675.4 1894.0 677.5 1900.0C679.6 1906.0 680.4 1907.5 682.9 1916.2C685.4 1925.0 689.2 1939.4 692.5 1952.5C695.8 1965.6 699.2 1981.7 702.5 1995.0C705.8 2008.3 709.2 2019.4 712.5 2032.5C715.8 2045.6 718.8 2061.7 722.1 2073.8C725.4 2085.8 728.7 2095.6 732.5 2105.0C736.3 2114.4 740.2 2122.5 745.0 2130.0C749.8 2137.5 756.3 2147.9 761.3 2150.0C766.3 2152.1 770.6 2145.8 775.0 2142.5C779.4 2139.2 783.2 2131.0 787.5 2130.0C791.8 2129.0 795.9 2130.8 800.5 2136.2C805.1 2141.7 810.9 2152.7 815.0 2162.5C819.1 2172.3 822.1 2184.6 825.0 2195.0C827.9 2205.4 830.0 2215.6 832.5 2225.0C835.0 2234.4 836.8 2240.8 839.7 2251.2C842.6 2261.7 846.6 2275.2 850.0 2287.5C853.4 2299.8 856.7 2314.2 860.0 2325.0C863.3 2335.8 866.9 2345.0 870.0 2352.5C873.1 2360.0 874.7 2363.3 878.9 2370.0C883.1 2376.7 888.5 2385.3 895.0 2392.5C901.5 2399.7 907.7 2407.4 918.1 2413.0C928.5 2418.6 944.2 2422.2 957.3 2426.0C970.4 2429.8 983.4 2433.5 996.5 2436.0C1009.6 2438.5 1022.6 2439.6 1035.7 2441.0C1048.8 2442.4 1061.8 2443.1 1074.9 2444.3C1088.0 2445.5 1101.0 2447.1 1114.1 2448.0C1127.2 2448.9 1140.2 2449.5 1153.3 2450.0C1166.4 2450.5 1179.4 2450.6 1192.5 2450.8C1205.6 2451.0 1218.6 2451.1 1231.7 2451.2C1244.8 2451.3 1257.8 2451.2 1270.9 2451.2C1284.0 2451.2 1297.0 2451.2 1310.1 2451.2C1323.2 2451.2 1336.2 2451.2 1349.3 2451.2C1362.4 2451.2 1375.4 2451.2 1388.5 2451.2C1401.6 2451.2 1414.6 2451.2 1427.7 2451.2C1440.8 2451.2 1453.8 2451.2 1466.9 2451.2C1480.0 2451.2 1493.0 2451.2 1506.1 2451.2C1519.2 2451.2 1532.2 2451.2 1545.3 2451.2C1558.4 2451.2 1571.4 2451.2 1584.5 2451.2C1597.6 2451.2 1610.6 2451.2 1623.7 2451.2C1636.8 2451.2 1649.8 2451.2 1662.9 2451.2C1676.0 2451.2 1689.0 2451.2 1702.1 2451.2C1715.2 2451.2 1728.2 2451.2 1741.3 2451.2C1754.4 2451.2 1767.4 2451.2 1780.5 2451.2C1793.6 2451.2 1806.6 2451.2 1819.7 2451.2C1832.8 2451.2 1845.8 2451.2 1858.9 2451.2C1872.0 2451.2 1884.6 2451.2 1898.1 2451.2C1911.6 2451.2 1933.0 2451.2 1940.0 2451.2" fill="none" stroke="#00a6f0" stroke-width="11.5" stroke-linejoin="round" stroke-linecap="butt"/><g fill="#fff" stroke="#00a6f0" stroke-width="3.5"><circle cx="290.9" cy="1806.3" r="11.1"/><circle cx="330.1" cy="1806.3" r="11.1"/><circle cx="369.3" cy="1700.6" r="11.1"/><circle cx="408.5" cy="1612.0" r="11.1"/><circle cx="447.7" cy="1557.5" r="11.1"/><circle cx="486.9" cy="1698.8" r="11.1"/><circle cx="526.1" cy="1761.2" r="11.1"/><circle cx="565.3" cy="1764.0" r="11.1"/><circle cx="604.5" cy="1860.5" r="11.1"/><circle cx="643.7" cy="1867.0" r="11.1"/><circle cx="682.9" cy="1916.2" r="11.1"/><circle cx="722.1" cy="2073.8" r="11.1"/><circle cx="761.3" cy="2150.0" r="11.1"/><circle cx="800.5" cy="2136.2" r="11.1"/><circle cx="839.7" cy="2251.2" r="11.1"/><circle cx="878.9" cy="2370.0" r="11.1"/><circle cx="918.1" cy="2413.0" r="11.1"/><circle cx="957.3" cy="2426.0" r="11.1"/><circle cx="996.5" cy="2436.0" r="11.1"/><circle cx="1035.7" cy="2441.0" r="11.1"/><circle cx="1074.9" cy="2444.0" r="11.1"/><circle cx="1114.1" cy="2446.3" r="11.1"/><circle cx="1153.3" cy="2447.4" r="11.1"/><circle cx="1192.5" cy="2448.0" r="11.1"/><circle cx="1231.7" cy="2448.3" r="11.1"/><circle cx="1270.9" cy="2448.3" r="11.1"/><circle cx="1310.1" cy="2448.3" r="11.1"/><circle cx="1349.3" cy="2448.3" r="11.1"/><circle cx="1388.5" cy="2448.3" r="11.1"/><circle cx="1427.7" cy="2448.3" r="11.1"/><circle cx="1466.9" cy="2448.3" r="11.1"/><circle cx="1506.1" cy="2448.3" r="11.1"/><circle cx="1545.3" cy="2448.3" r="11.1"/><circle cx="1584.5" cy="2448.3" r="11.1"/><circle cx="1623.7" cy="2448.3" r="11.1"/><circle cx="1662.9" cy="2448.3" r="11.1"/><circle cx="1702.1" cy="2448.3" r="11.1"/><circle cx="1741.3" cy="2448.3" r="11.1"/><circle cx="1780.5" cy="2448.3" r="11.1"/><circle cx="1819.7" cy="2448.3" r="11.1"/><circle cx="1858.9" cy="2448.3" r="11.1"/><circle cx="1898.1" cy="2448.3" r="11.1"/></g></g>
<g stroke="#000" fill="none"><path d="M463.0 2454.0 V2477.2" stroke-width="4.2"/><path d="M708.2 2454.0 V2477.2" stroke-width="4.2"/><path d="M953.5 2454.0 V2477.2" stroke-width="4.2"/><path d="M1198.8 2454.0 V2477.2" stroke-width="4.2"/><path d="M1444.0 2454.0 V2477.2" stroke-width="4.2"/><path d="M1689.2 2454.0 V2477.2" stroke-width="4.2"/><path d="M1934.5 2454.0 V2477.2" stroke-width="4.2"/><path d="M340.4 2454.0 V2465.4" stroke-width="3.6"/><path d="M585.6 2454.0 V2465.4" stroke-width="3.6"/><path d="M830.9 2454.0 V2465.4" stroke-width="3.6"/><path d="M1076.1 2454.0 V2465.4" stroke-width="3.6"/><path d="M1321.4 2454.0 V2465.4" stroke-width="3.6"/><path d="M1566.6 2454.0 V2465.4" stroke-width="3.6"/><path d="M1811.9 2454.0 V2465.4" stroke-width="3.6"/></g>
<g font-size="57">
<text transform="translate(462.0 1245.3) scale(1.05 1)" text-anchor="middle" font-size="56.5">300</text><text transform="translate(707.2 1245.3) scale(1.05 1)" text-anchor="middle" font-size="56.5">350</text><text transform="translate(952.5 1245.3) scale(1.05 1)" text-anchor="middle" font-size="56.5">400</text><text transform="translate(1197.8 1245.3) scale(1.05 1)" text-anchor="middle" font-size="56.5">450</text><text transform="translate(1443.0 1245.3) scale(1.05 1)" text-anchor="middle" font-size="56.5">500</text><text transform="translate(1688.2 1245.3) scale(1.05 1)" text-anchor="middle" font-size="56.5">550</text><text transform="translate(1933.5 1245.3) scale(1.05 1)" text-anchor="middle" font-size="56.5">600</text>
<text transform="translate(462.0 2539.2) scale(1.05 1)" text-anchor="middle" font-size="56.5">300</text><text transform="translate(707.2 2539.2) scale(1.05 1)" text-anchor="middle" font-size="56.5">350</text><text transform="translate(952.5 2539.2) scale(1.05 1)" text-anchor="middle" font-size="56.5">400</text><text transform="translate(1197.8 2539.2) scale(1.05 1)" text-anchor="middle" font-size="56.5">450</text><text transform="translate(1443.0 2539.2) scale(1.05 1)" text-anchor="middle" font-size="56.5">500</text><text transform="translate(1688.2 2539.2) scale(1.05 1)" text-anchor="middle" font-size="56.5">550</text><text transform="translate(1933.5 2539.2) scale(1.05 1)" text-anchor="middle" font-size="56.5">600</text>
<text transform="translate(226.5 1175.0) scale(1.05 1)" text-anchor="end" font-size="56.5">0</text><text transform="translate(226.5 851.9) scale(1.05 1)" text-anchor="end" font-size="56.5">1</text><text transform="translate(226.5 528.8) scale(1.05 1)" text-anchor="end" font-size="56.5">2</text><text transform="translate(226.5 205.7) scale(1.05 1)" text-anchor="end" font-size="56.5">3</text>
<text transform="translate(226.5 2468.9) scale(1.05 1)" text-anchor="end" font-size="56.5">0</text><text transform="translate(226.5 2186.7) scale(1.05 1)" text-anchor="end" font-size="56.5">2</text><text transform="translate(226.5 1904.5) scale(1.05 1)" text-anchor="end" font-size="56.5">4</text><text transform="translate(226.5 1622.3) scale(1.05 1)" text-anchor="end" font-size="56.5">6</text><text transform="translate(226.5 1340.1) scale(1.05 1)" text-anchor="end" font-size="56.5">8</text>
</g>
<text transform="translate(1099.5 2648.6) scale(1.033 1)" text-anchor="middle" font-size="64">Wavelength [nm]</text>
<text transform="translate(108.8 832.5) scale(1.033 1) rotate(-90)"><tspan x="0.0" y="0.0" font-size="76">&#949;</tspan><tspan x="54.5" y="0.0" font-size="68">x</tspan><tspan x="109.5" y="0.0" font-size="68">10</tspan><tspan x="184.5" y="-36.8" font-size="41">4</tspan><tspan x="223.5" y="0.0" font-size="57">[</tspan><tspan x="243.0" y="0.0" font-size="68">M</tspan><tspan x="300.5" y="-31.0" font-size="68">-1</tspan><tspan x="357.8" y="0.0" font-size="68">cm</tspan><tspan x="457.0" y="-31.0" font-size="68">-1</tspan><tspan x="515.0" y="0.0" font-size="57">]</tspan></text>
<text transform="translate(132.3 2125.5) scale(1.033 1) rotate(-90)"><tspan x="0.0" y="0.0" font-size="76">&#949;</tspan><tspan x="54.5" y="0.0" font-size="68">x</tspan><tspan x="109.5" y="0.0" font-size="68">10</tspan><tspan x="184.5" y="-36.8" font-size="41">4</tspan><tspan x="223.5" y="0.0" font-size="57">[</tspan><tspan x="243.0" y="0.0" font-size="68">M</tspan><tspan x="300.5" y="-31.0" font-size="68">-1</tspan><tspan x="357.8" y="0.0" font-size="68">cm</tspan><tspan x="457.0" y="-31.0" font-size="68">-1</tspan><tspan x="515.0" y="0.0" font-size="57">]</tspan></text>
<path d="M1440.5 113.3 H1623.5" stroke="#ff0000" stroke-width="12.4" stroke-linecap="round" fill="none"/><text transform="translate(1649.0 140.4) scale(1.05 1)" text-anchor="start" font-size="77">1A DMSO</text><path d="M1440.5 214.6 H1623.5" stroke="#ff8000" stroke-width="12.4" stroke-linecap="round" fill="none"/><circle cx="1530.3" cy="214.6" r="12.5" fill="#fff" stroke="#ff8000" stroke-width="3.8"/><text transform="translate(1649.0 242.5) scale(1.05 1)" text-anchor="start" font-size="77">1A MeCN</text><path d="M1440.5 317.9 H1623.5" stroke="#008000" stroke-width="12.4" stroke-linecap="round" fill="none"/><text transform="translate(1649.0 345.8) scale(1.05 1)" text-anchor="start" font-size="77">1B DMSO</text><path d="M1440.5 420.0 H1623.5" stroke="#00ff00" stroke-width="12.4" stroke-linecap="round" fill="none"/><circle cx="1530.3" cy="420.0" r="12.5" fill="#fff" stroke="#00ff00" stroke-width="3.8"/><text transform="translate(1649.0 448.3) scale(1.05 1)" text-anchor="start" font-size="77">1B MeCN</text>
<path d="M1457.0 1423.8 H1641.0" stroke="#800080" stroke-width="12.4" stroke-linecap="round" fill="none"/><text transform="translate(1662.8 1452.0) scale(1.05 1)" text-anchor="start" font-size="77">2A DMSO</text><path d="M1457.0 1526.0 H1641.0" stroke="#ff00ff" stroke-width="12.4" stroke-linecap="round" fill="none"/><circle cx="1548.0" cy="1526.0" r="12.5" fill="#fff" stroke="#ff00ff" stroke-width="3.8"/><text transform="translate(1662.8 1554.0) scale(1.05 1)" text-anchor="start" font-size="77">2A MeCN</text><path d="M1457.0 1629.6 H1641.0" stroke="#000099" stroke-width="12.4" stroke-linecap="round" fill="none"/><text transform="translate(1662.8 1657.5) scale(1.05 1)" text-anchor="start" font-size="77">2B DMSO</text><path d="M1457.0 1731.0 H1641.0" stroke="#00a6f0" stroke-width="12.4" stroke-linecap="round" fill="none"/><circle cx="1548.0" cy="1731.0" r="12.5" fill="#fff" stroke="#00a6f0" stroke-width="3.8"/><text transform="translate(1662.8 1759.6) scale(1.05 1)" text-anchor="start" font-size="77">2B MeCN</text>
</svg>
</body></html>
